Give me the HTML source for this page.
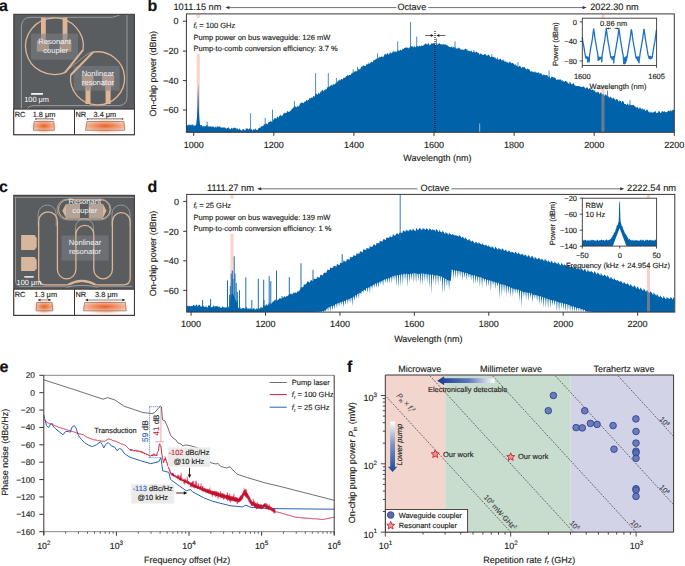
<!DOCTYPE html>
<html><head><meta charset="utf-8"><style>
html,body{margin:0;padding:0;background:#fff;overflow:hidden;}
svg{display:block;font-family:"Liberation Sans", sans-serif;text-rendering:geometricPrecision;}
</style></head><body>
<svg width="685" height="566" viewBox="0 0 685 566" font-family='"Liberation Sans", sans-serif'>
<defs>
<radialGradient id="glowA" cx="0.5" cy="0.5" r="0.5"><stop offset="0.5" stop-color="#f39c74" stop-opacity="0.85"/><stop offset="1" stop-color="#fbe3d6" stop-opacity="0"/></radialGradient>
<radialGradient id="coreA" cx="0.5" cy="0.5" r="0.6"><stop offset="0" stop-color="#e8602a"/><stop offset="0.35" stop-color="#ee8758"/><stop offset="0.8" stop-color="#f4b496"/><stop offset="1" stop-color="#f7c9b2"/></radialGradient>
<radialGradient id="glowC" cx="0.5" cy="0.5" r="0.5"><stop offset="0.5" stop-color="#f39c74" stop-opacity="0.85"/><stop offset="1" stop-color="#fbe3d6" stop-opacity="0"/></radialGradient>
<radialGradient id="coreC" cx="0.5" cy="0.5" r="0.6"><stop offset="0" stop-color="#e8602a"/><stop offset="0.35" stop-color="#ee8758"/><stop offset="0.8" stop-color="#f4b496"/><stop offset="1" stop-color="#f7c9b2"/></radialGradient>
</defs>
<text x="-0.9" y="10.8" font-size="16" font-weight="bold" fill="#111" stroke="#111" stroke-width="0.15">a</text>
<text x="147.6" y="10.8" font-size="16" font-weight="bold" fill="#111" stroke="#111" stroke-width="0.15">b</text>
<text x="-0.9" y="191.6" font-size="16" font-weight="bold" fill="#111" stroke="#111" stroke-width="0.15">c</text>
<text x="147.6" y="192.2" font-size="16" font-weight="bold" fill="#111" stroke="#111" stroke-width="0.15">d</text>
<text x="-0.6" y="372.3" font-size="16" font-weight="bold" fill="#111" stroke="#111" stroke-width="0.15">e</text>
<text x="347.0" y="372.4" font-size="16" font-weight="bold" fill="#111" stroke="#111" stroke-width="0.15">f</text>
<rect x="13.8" y="14.3" width="120.6" height="95" fill="#595d60"/>
<rect x="13.8" y="14.3" width="120.6" height="120.4" fill="none" stroke="#3b3131" stroke-width="1"/>
<path d="M21.4,109 L21.4,27 Q21.4,17.3 31,17.3 L112.4,17.3 L119.4,15.2 M27,109 Q29,105.6 33,105.6 L118,105.6 Q127,105.6 127,97 L127,15.2" fill="none" stroke="#b4b7ba" stroke-width="0.7"/>
<path d="M62,74 Q66,71 70,68 L86,55 Q90,52 95,51.5" fill="none" stroke="#b9bcc0" stroke-width="0.6"/>
<rect x="31" y="33.7" width="47" height="26" fill="#6c7074"/>
<rect x="73.6" y="66" width="46" height="24.7" fill="#6c7074"/>
<rect x="41.0" y="17.6" width="4.8" height="17" fill="#e0b594"/>
<rect x="62.6" y="17.6" width="4.8" height="17" fill="#e0b594"/>
<rect x="36.8" y="40.5" width="12.2" height="11.1" fill="#a8968b"/>
<rect x="59.6" y="40.5" width="11.7" height="11.1" fill="#a8968b"/>
<rect x="41.0" y="33.7" width="4.8" height="7" fill="#a8968b"/>
<rect x="62.6" y="33.7" width="4.8" height="7" fill="#a8968b"/>
<rect x="85.5" y="86" width="5" height="18" fill="#e0b594"/>
<rect x="105.6" y="86" width="5" height="18" fill="#e0b594"/>
<rect x="85.5" y="86" width="5" height="4.7" fill="#a8968b"/>
<rect x="105.6" y="86" width="5" height="4.7" fill="#a8968b"/>
<rect x="81.8" y="75" width="11.7" height="11.2" fill="#ab978d"/>
<rect x="101.9" y="75" width="12.2" height="11.2" fill="#ab978d"/>
<path d="M83.1,49.9 A28.9,28.3 0 1 0 65,72.6" fill="none" stroke="#e0b594" stroke-width="1.3"/>
<path d="M83.1,49.9 L65,72.6" fill="none" stroke="#e0b594" stroke-width="2"/>
<path d="M70.7,75 A27.05,26.55 0 1 0 92.9,52.2" fill="none" stroke="#e0b594" stroke-width="1.3"/>
<path d="M70.7,75 L92.9,52.2" fill="none" stroke="#e0b594" stroke-width="2"/>
<text x="54.6" y="44.1" font-size="7.6" text-anchor="middle" fill="#f4f4f4">Resonant</text>
<text x="55.6" y="52.6" font-size="7.6" text-anchor="middle" fill="#f4f4f4">coupler</text>
<text x="97.9" y="75.9" font-size="7.6" text-anchor="middle" fill="#f4f4f4">Nonlinear</text>
<text x="97.9" y="85.2" font-size="7.6" text-anchor="middle" fill="#f4f4f4">resonator</text>
<rect x="31.1" y="93" width="11.8" height="1.8" fill="#f4f4f4"/>
<text x="24.2" y="102" font-size="7.4" fill="#fff">100 μm</text>
<rect x="13.8" y="109.1" width="120.6" height="25.599999999999994" fill="#fff" stroke="#3b3131" stroke-width="1"/>
<line x1="74.5" y1="109.1" x2="74.5" y2="134.7" stroke="#3b3131" stroke-width="1"/>
<text x="14.7" y="116.7" font-size="7.4" fill="#231f20" stroke="#231f20" stroke-width="0.15">RC</text>
<text x="75.5" y="116.7" font-size="7.4" fill="#231f20" stroke="#231f20" stroke-width="0.15">NR</text>
<text x="32.7" y="116.7" font-size="7.4" fill="#231f20" stroke="#231f20" stroke-width="0.15">1.8 μm</text>
<text x="93.5" y="116.7" font-size="7.4" fill="#231f20" stroke="#231f20" stroke-width="0.15">3.4 μm</text>
<line x1="35.9" y1="118.9" x2="52.8" y2="118.9" stroke="#7a6a66" stroke-width="1"/>
<circle cx="35.9" cy="118.9" r="0.75" fill="#3b3131"/><circle cx="52.8" cy="118.9" r="0.75" fill="#3b3131"/>
<line x1="87.5" y1="118.9" x2="122.6" y2="118.9" stroke="#7a6a66" stroke-width="1"/>
<circle cx="87.5" cy="118.9" r="0.75" fill="#3b3131"/><circle cx="122.6" cy="118.9" r="0.75" fill="#3b3131"/>
<ellipse cx="44.0" cy="126.4" rx="14.5" ry="8" fill="url(#glowA)"/>
<path d="M34.2,121.5 L53.8,121.5 L54.4,130.3 L33.4,130.3 Z" fill="url(#coreA)" stroke="#84665c" stroke-width="0.65"/>
<ellipse cx="105.4" cy="126.4" rx="23.65" ry="8" fill="url(#glowA)"/>
<path d="M86.9,121.5 L123.9,121.5 L124.8,130.3 L85.5,130.3 Z" fill="url(#coreA)" stroke="#84665c" stroke-width="0.65"/>
<rect x="13.8" y="195.3" width="120.6" height="94" fill="#595d60"/>
<rect x="13.8" y="195.3" width="120.6" height="120.2" fill="none" stroke="#3b3131" stroke-width="1"/>
<path d="M15.5,198 L15.5,281 Q15.5,286.4 22,286.4 L66,286.4 M98,286.4 L132,286.4" fill="none" stroke="#b9bcc0" stroke-width="0.6"/>
<path d="M14,197.4 L134,197.4" fill="none" stroke="#b9bcc0" stroke-width="0.6"/>
<path d="M38.2,226 L38.2,214 A9,9 0 0 1 56.2,214 L56.2,226" fill="none" stroke="#b9bcc0" stroke-width="0.6"/>
<path d="M112,226 L112,214 A9,9 0 0 1 130,214 L130,226" fill="none" stroke="#b9bcc0" stroke-width="0.6"/>
<path d="M75.5,236 L75.5,227.6 A9,9 0 0 1 93.5,227.6 L93.5,236" fill="none" stroke="#b9bcc0" stroke-width="0.6"/>
<rect x="57" y="199" width="54" height="21" rx="10.5" fill="none" stroke="#b9bcc0" stroke-width="0.6"/>
<rect x="61.6" y="235.5" width="47.1" height="25.1" fill="#6c7074"/>
<path d="M38.7,278 L38.7,221.15 A9.349999999999998,9.349999999999998 0 0 1 57.4,221.15 L57.4,269.55 A9.250000000000004,9.250000000000004 0 0 0 75.9,269.55 L75.9,234.35 A8.949999999999996,8.949999999999996 0 0 1 93.8,234.35 L93.8,269.5 A9.300000000000004,9.300000000000004 0 0 0 112.4,269.5 L112.4,221.59999999999997 A8.899999999999991,8.899999999999991 0 0 1 130.2,221.59999999999997 L130.2,278 Q130.2,284.8 123.5,284.8 L95.8,284.8 Q82,277 67.9,284.8 L45.5,284.8 Q38.7,284.8 38.7,278 Z" fill="none" stroke="#e0b594" stroke-width="1.3"/>
<path d="M68.5,284.6 Q82,277.3 95.2,284.6" fill="none" stroke="#e0b594" stroke-width="2.2"/>
<path d="M66,287.2 Q82,283.5 98,287.2" fill="none" stroke="#b9bcc0" stroke-width="0.7"/>
<rect x="58.5" y="199.7" width="51.7" height="19.2" rx="9.6" fill="none" stroke="#e0b594" stroke-width="1"/>
<path d="M62.3,210.8 L66,204 L79.9,204 L79.9,217.7 L66,217.7 Z" fill="#d8b69c"/>
<path d="M106.5,210.8 L103,204 L88.9,204 L88.9,217.7 L103,217.7 Z" fill="#d8b69c"/>
<rect x="66" y="204" width="13.9" height="13.7" fill="#b3a397"/>
<rect x="88.9" y="204" width="14.1" height="13.7" fill="#b3a397"/>
<path d="M21.1,235 L34.5,235 L36.7,238 L36.7,247 L34.5,249.9 L21.1,249.9 Z" fill="#d8b69c"/>
<path d="M21.1,257 L34.5,257 L36.7,260 L36.7,268.5 L34.5,271.1 L21.1,271.1 Z" fill="#d8b69c"/>
<text x="84.8" y="204.2" font-size="7.6" text-anchor="middle" fill="#f4f4f4">Resonant</text>
<text x="84.8" y="213.3" font-size="7.6" text-anchor="middle" fill="#f4f4f4">coupler</text>
<text x="85" y="245.3" font-size="7.6" text-anchor="middle" fill="#f4f4f4">Nonlinear</text>
<text x="85" y="254.4" font-size="7.6" text-anchor="middle" fill="#f4f4f4">resonator</text>
<rect x="24.3" y="276.2" width="9.4" height="1.4" fill="#fff"/>
<text x="16.6" y="285" font-size="7.4" fill="#fff">100 μm</text>
<rect x="13.8" y="289.2" width="120.6" height="26.100000000000023" fill="#fff" stroke="#3b3131" stroke-width="1"/>
<line x1="74.5" y1="289.2" x2="74.5" y2="315.3" stroke="#3b3131" stroke-width="1"/>
<text x="14.7" y="297.2" font-size="7.4" fill="#231f20" stroke="#231f20" stroke-width="0.15">RC</text>
<text x="75.5" y="297.2" font-size="7.4" fill="#231f20" stroke="#231f20" stroke-width="0.15">NR</text>
<text x="34.3" y="297.2" font-size="7.4" fill="#231f20" stroke="#231f20" stroke-width="0.15">1.3 μm</text>
<text x="95.0" y="297.2" font-size="7.4" fill="#231f20" stroke="#231f20" stroke-width="0.15">3.8 μm</text>
<line x1="39.0" y1="300.0" x2="49.9" y2="300.0" stroke="#231f20" stroke-width="0.6"/>
<path d="M37.5,300.0 l3,-1.3 v2.6 z M51.4,300.0 l-3,-1.3 v2.6 z" fill="#231f20"/>
<line x1="86.5" y1="300.0" x2="123.9" y2="300.0" stroke="#231f20" stroke-width="0.6"/>
<path d="M85.0,300.0 l3,-1.3 v2.6 z M125.4,300.0 l-3,-1.3 v2.6 z" fill="#231f20"/>
<ellipse cx="44.35" cy="307.15" rx="12.25" ry="8" fill="url(#glowC)"/>
<path d="M36.6,302.5 L52.1,302.5 L52.7,310.8 L36.2,310.8 Z" fill="url(#coreC)" stroke="#84665c" stroke-width="0.65"/>
<ellipse cx="105.0" cy="307.15" rx="25.449999999999996" ry="8" fill="url(#glowC)"/>
<path d="M84.6,302.5 L125.4,302.5 L126.3,310.8 L83.4,310.8 Z" fill="url(#coreC)" stroke="#84665c" stroke-width="0.65"/>
<rect x="196.76557499999998" y="14.4" width="3" height="117.4" fill="#fbd3c6"/>
<path d="M186.4,132.3 L186.4,124.9 L187.0,124.5 L187.6,125.8 L188.2,124.3 L188.8,125.5 L189.4,125.1 L190.0,124.3 L190.6,125.5 L191.2,124.3 L191.8,125.4 L192.4,124.5 L193.0,124.6 L193.6,125.5 L194.2,126.5 L194.8,124.7 L195.4,125.0 L196.0,126.1 L196.6,127.0 L197.2,126.0 L197.8,125.6 L198.4,127.1 L199.0,124.7 L199.6,126.9 L200.2,125.4 L200.8,125.1 L201.4,125.1 L202.0,125.6 L202.6,126.9 L203.2,125.3 L203.8,126.4 L204.4,126.6 L205.0,125.9 L205.6,126.4 L206.2,125.2 L206.8,125.2 L207.4,125.6 L208.0,126.8 L208.6,126.2 L209.2,126.0 L209.8,126.7 L210.4,126.4 L211.0,126.0 L211.6,127.3 L212.2,127.1 L212.8,126.0 L213.4,126.8 L214.0,126.7 L214.6,127.7 L215.2,127.3 L215.8,126.2 L216.4,128.0 L217.0,125.8 L217.6,126.6 L218.2,127.6 L218.8,126.0 L219.4,126.9 L220.0,125.8 L220.6,127.5 L221.2,127.8 L221.8,127.3 L222.4,128.1 L223.0,126.7 L223.6,127.8 L224.2,127.6 L224.8,127.6 L225.4,127.4 L226.0,128.4 L226.6,128.8 L227.2,127.7 L227.8,128.2 L228.4,126.7 L229.0,128.5 L229.6,128.4 L230.2,129.4 L230.8,129.0 L231.4,127.7 L232.0,128.1 L232.6,128.9 L233.2,127.3 L233.8,128.5 L234.4,127.8 L235.0,127.8 L235.6,127.7 L236.2,129.6 L236.8,128.0 L237.4,128.4 L238.0,128.9 L238.6,130.2 L239.2,128.2 L239.8,129.2 L240.4,129.5 L241.0,130.4 L241.6,130.2 L242.2,130.4 L242.8,128.8 L243.4,129.2 L244.0,129.0 L244.6,130.4 L245.2,130.6 L245.8,128.5 L246.4,128.5 L247.0,128.6 L247.6,128.6 L248.2,129.3 L248.8,129.5 L249.4,128.6 L250.0,128.0 L250.6,129.0 L251.2,128.9 L251.8,129.4 L252.4,130.4 L253.0,129.7 L253.6,129.2 L254.2,129.4 L254.8,129.6 L255.4,127.9 L256.0,130.1 L256.6,129.7 L257.2,129.9 L257.8,129.6 L258.4,128.3 L259.0,128.2 L259.6,127.2 L260.2,128.3 L260.8,126.6 L261.4,126.3 L262.0,126.4 L262.6,125.9 L263.2,125.9 L263.8,124.8 L264.4,124.3 L265.0,124.3 L265.6,123.8 L266.2,124.1 L266.8,122.9 L267.4,124.7 L268.0,123.6 L268.6,122.0 L269.2,121.9 L269.8,121.8 L270.4,121.5 L271.0,120.5 L271.6,122.0 L272.2,122.0 L272.8,120.2 L273.4,119.9 L274.0,118.5 L274.6,118.2 L275.2,118.5 L275.8,117.9 L276.4,119.0 L277.0,116.9 L277.6,116.2 L278.2,118.3 L278.8,116.8 L279.4,115.5 L280.0,116.2 L280.6,114.5 L281.2,115.4 L281.8,116.3 L282.4,115.6 L283.0,114.8 L283.6,113.3 L284.2,113.3 L284.8,112.4 L285.4,113.6 L286.0,112.6 L286.6,112.9 L287.2,111.4 L287.8,110.8 L288.4,112.0 L289.0,112.1 L289.6,111.4 L290.2,110.9 L290.8,110.6 L291.4,110.0 L292.0,108.3 L292.6,108.7 L293.2,108.0 L293.8,106.8 L294.4,106.4 L295.0,106.7 L295.6,106.3 L296.2,107.1 L296.8,107.4 L297.4,105.7 L298.0,106.6 L298.6,106.4 L299.2,106.0 L299.8,104.1 L300.4,103.3 L301.0,103.0 L301.6,102.6 L302.2,102.2 L302.8,103.0 L303.4,103.3 L304.0,102.8 L304.6,101.5 L305.2,101.6 L305.8,101.6 L306.4,99.4 L307.0,100.5 L307.6,100.8 L308.2,100.1 L308.8,99.7 L309.4,98.6 L310.0,97.5 L310.6,98.7 L311.2,97.2 L311.8,98.0 L312.4,98.1 L313.0,96.3 L313.6,95.9 L314.2,97.0 L314.8,96.0 L315.4,94.2 L316.0,93.8 L316.6,93.5 L317.2,95.1 L317.8,94.5 L318.4,92.4 L319.0,93.8 L319.6,93.8 L320.2,92.6 L320.8,91.5 L321.4,91.6 L322.0,90.2 L322.6,89.5 L323.2,91.7 L323.8,90.5 L324.4,89.8 L325.0,90.5 L325.6,88.8 L326.2,89.6 L326.8,89.1 L327.4,87.2 L328.0,86.9 L328.6,86.7 L329.2,86.2 L329.8,86.7 L330.4,85.5 L331.0,85.6 L331.6,84.5 L332.2,86.1 L332.8,84.3 L333.4,84.2 L334.0,84.2 L334.6,84.7 L335.2,83.1 L335.8,84.0 L336.4,82.5 L337.0,82.3 L337.6,81.9 L338.2,80.2 L338.8,80.9 L339.4,79.9 L340.0,79.1 L340.6,80.8 L341.2,78.8 L341.8,79.2 L342.4,79.5 L343.0,78.7 L343.6,77.7 L344.2,77.9 L344.8,77.6 L345.4,77.8 L346.0,75.7 L346.6,76.5 L347.2,75.4 L347.8,75.1 L348.4,76.0 L349.0,74.9 L349.6,74.7 L350.2,74.9 L350.8,74.9 L351.4,73.3 L352.0,73.4 L352.6,72.8 L353.2,72.4 L353.8,72.6 L354.4,71.6 L355.0,71.4 L355.6,70.9 L356.2,71.8 L356.8,70.8 L357.4,70.9 L358.0,70.7 L358.6,68.6 L359.2,69.0 L359.8,69.6 L360.4,69.0 L361.0,66.8 L361.6,66.4 L362.2,66.9 L362.8,65.6 L363.4,65.7 L364.0,64.9 L364.6,66.1 L365.2,66.0 L365.8,65.9 L366.4,63.7 L367.0,64.8 L367.6,64.3 L368.2,62.6 L368.8,64.2 L369.4,64.1 L370.0,61.8 L370.6,63.4 L371.2,61.7 L371.8,61.6 L372.4,62.6 L373.0,61.9 L373.6,59.8 L374.2,60.2 L374.8,60.2 L375.4,59.4 L376.0,58.7 L376.6,58.7 L377.2,59.5 L377.8,57.3 L378.4,58.4 L379.0,57.8 L379.6,56.4 L380.2,56.9 L380.8,57.4 L381.4,56.8 L382.0,55.3 L382.6,57.4 L383.2,56.6 L383.8,56.8 L384.4,54.3 L385.0,54.4 L385.6,53.6 L386.2,55.2 L386.8,53.7 L387.4,53.1 L388.0,53.6 L388.6,54.7 L389.2,54.2 L389.8,52.6 L390.4,52.1 L391.0,53.9 L391.6,52.8 L392.2,53.0 L392.8,51.2 L393.4,51.0 L394.0,52.4 L394.6,51.6 L395.2,50.5 L395.8,52.6 L396.4,51.6 L397.0,51.8 L397.6,49.8 L398.2,51.6 L398.8,49.4 L399.4,51.3 L400.0,50.1 L400.6,49.6 L401.2,50.0 L401.8,50.8 L402.4,48.9 L403.0,48.3 L403.6,49.2 L404.2,48.3 L404.8,47.8 L405.4,47.8 L406.0,47.4 L406.6,47.6 L407.2,47.8 L407.8,47.6 L408.4,48.7 L409.0,47.3 L409.6,47.8 L410.2,46.8 L410.8,47.1 L411.4,46.1 L412.0,46.6 L412.6,45.9 L413.2,47.6 L413.8,47.0 L414.4,46.0 L415.0,46.6 L415.6,47.7 L416.2,45.4 L416.8,47.1 L417.4,46.0 L418.0,46.0 L418.6,46.8 L419.2,45.5 L419.8,45.7 L420.4,46.1 L421.0,46.7 L421.6,44.9 L422.2,46.1 L422.8,45.7 L423.4,45.4 L424.0,44.7 L424.6,44.5 L425.2,43.6 L425.8,43.7 L426.4,43.5 L427.0,45.2 L427.6,43.8 L428.2,43.5 L428.8,43.3 L429.4,45.2 L430.0,45.2 L430.6,44.6 L431.2,43.5 L431.8,43.3 L432.4,43.4 L433.0,43.7 L433.6,42.9 L434.2,43.6 L434.8,43.2 L435.4,45.0 L436.0,45.0 L436.6,44.0 L437.2,43.2 L437.8,45.2 L438.4,43.5 L439.0,43.8 L439.6,43.0 L440.2,44.1 L440.8,44.4 L441.4,44.6 L442.0,44.0 L442.6,44.9 L443.2,43.7 L443.8,44.5 L444.4,44.2 L445.0,45.1 L445.6,44.3 L446.2,44.4 L446.8,45.2 L447.4,45.2 L448.0,46.2 L448.6,46.2 L449.2,46.9 L449.8,46.7 L450.4,47.0 L451.0,47.6 L451.6,46.4 L452.2,46.4 L452.8,48.2 L453.4,46.2 L454.0,47.8 L454.6,47.7 L455.2,46.2 L455.8,48.4 L456.4,48.7 L457.0,48.1 L457.6,48.5 L458.2,48.8 L458.8,47.2 L459.4,48.3 L460.0,48.4 L460.6,49.4 L461.2,49.5 L461.8,49.7 L462.4,49.2 L463.0,50.1 L463.6,49.7 L464.2,49.9 L464.8,48.9 L465.4,48.5 L466.0,48.9 L466.6,49.7 L467.2,49.1 L467.8,51.2 L468.4,50.6 L469.0,51.0 L469.6,51.1 L470.2,51.4 L470.8,51.1 L471.4,50.0 L472.0,52.2 L472.6,52.2 L473.2,51.7 L473.8,52.0 L474.4,52.4 L475.0,51.1 L475.6,53.0 L476.2,51.9 L476.8,51.5 L477.4,52.2 L478.0,53.6 L478.6,52.4 L479.2,53.9 L479.8,54.7 L480.4,53.6 L481.0,53.5 L481.6,53.9 L482.2,54.6 L482.8,55.0 L483.4,54.7 L484.0,55.0 L484.6,53.7 L485.2,54.0 L485.8,54.5 L486.4,55.9 L487.0,54.9 L487.6,55.8 L488.2,54.5 L488.8,54.8 L489.4,55.5 L490.0,56.7 L490.6,56.9 L491.2,57.1 L491.8,56.2 L492.4,57.0 L493.0,57.0 L493.6,57.2 L494.2,56.4 L494.8,58.6 L495.4,57.0 L496.0,59.2 L496.6,59.3 L497.2,57.1 L497.8,58.4 L498.4,59.5 L499.0,60.1 L499.6,59.0 L500.2,58.7 L500.8,58.8 L501.4,60.9 L502.0,59.2 L502.6,60.4 L503.2,59.5 L503.8,60.7 L504.4,62.0 L505.0,60.1 L505.6,62.1 L506.2,61.5 L506.8,62.7 L507.4,62.4 L508.0,61.4 L508.6,63.4 L509.2,62.5 L509.8,61.5 L510.4,61.7 L511.0,63.2 L511.6,63.3 L512.2,63.1 L512.8,62.9 L513.4,63.7 L514.0,63.8 L514.6,65.4 L515.2,63.4 L515.8,65.6 L516.4,66.1 L517.0,64.4 L517.6,66.7 L518.2,66.4 L518.8,67.1 L519.4,65.7 L520.0,66.1 L520.6,66.4 L521.2,68.2 L521.8,67.4 L522.4,67.0 L523.0,67.4 L523.6,67.2 L524.2,66.8 L524.8,67.2 L525.4,69.3 L526.0,68.1 L526.6,70.0 L527.2,68.4 L527.8,68.7 L528.4,69.5 L529.0,68.9 L529.6,69.6 L530.2,71.3 L530.8,71.4 L531.4,71.4 L532.0,71.1 L532.6,72.1 L533.2,72.4 L533.8,71.6 L534.4,72.2 L535.0,70.7 L535.6,72.7 L536.2,72.1 L536.8,73.1 L537.4,73.1 L538.0,72.3 L538.6,71.9 L539.2,74.4 L539.8,72.5 L540.4,73.6 L541.0,73.5 L541.6,73.6 L542.2,74.9 L542.8,75.8 L543.4,74.1 L544.0,75.3 L544.6,74.6 L545.2,75.5 L545.8,75.3 L546.4,74.9 L547.0,75.1 L547.6,75.4 L548.2,77.4 L548.8,76.6 L549.4,76.0 L550.0,78.0 L550.6,78.5 L551.2,77.2 L551.8,76.6 L552.4,77.0 L553.0,76.9 L553.6,77.7 L554.2,77.3 L554.8,77.8 L555.4,78.1 L556.0,79.1 L556.6,80.1 L557.2,79.9 L557.8,79.2 L558.4,79.4 L559.0,79.8 L559.6,79.6 L560.2,79.7 L560.8,79.2 L561.4,79.9 L562.0,81.9 L562.6,79.8 L563.2,81.0 L563.8,81.5 L564.4,82.3 L565.0,80.8 L565.6,81.1 L566.2,81.2 L566.8,81.8 L567.4,82.1 L568.0,83.6 L568.6,83.5 L569.2,83.7 L569.8,81.7 L570.4,81.9 L571.0,83.9 L571.6,84.5 L572.2,83.6 L572.8,84.1 L573.4,82.7 L574.0,83.9 L574.6,85.5 L575.2,85.4 L575.8,85.7 L576.4,86.2 L577.0,84.5 L577.6,84.3 L578.2,84.6 L578.8,85.7 L579.4,86.3 L580.0,87.2 L580.6,86.8 L581.2,86.8 L581.8,87.3 L582.4,86.6 L583.0,87.1 L583.6,85.9 L584.2,88.0 L584.8,86.8 L585.4,88.7 L586.0,88.2 L586.6,87.5 L587.2,87.2 L587.8,87.8 L588.4,89.0 L589.0,89.3 L589.6,88.0 L590.2,88.1 L590.8,89.5 L591.4,89.9 L592.0,89.6 L592.6,89.4 L593.2,90.7 L593.8,89.4 L594.4,90.4 L595.0,91.0 L595.6,92.5 L596.2,92.0 L596.8,92.8 L597.4,92.0 L598.0,91.6 L598.6,91.9 L599.2,94.0 L599.8,93.6 L600.4,92.8 L601.0,92.3 L601.6,93.7 L602.2,94.4 L602.8,94.0 L603.4,93.8 L604.0,95.1 L604.6,96.0 L605.2,94.5 L605.8,94.2 L606.4,95.2 L607.0,95.7 L607.6,96.6 L608.2,95.6 L608.8,97.4 L609.4,97.5 L610.0,97.1 L610.6,96.6 L611.2,98.8 L611.8,97.3 L612.4,98.9 L613.0,97.6 L613.6,97.8 L614.2,99.5 L614.8,98.5 L615.4,100.4 L616.0,99.5 L616.6,98.9 L617.2,99.3 L617.8,100.0 L618.4,100.9 L619.0,101.9 L619.6,100.0 L620.2,100.9 L620.8,100.7 L621.4,102.9 L622.0,101.0 L622.6,101.0 L623.2,101.2 L623.8,102.3 L624.4,103.9 L625.0,104.1 L625.6,103.9 L626.2,104.8 L626.8,104.9 L627.4,103.5 L628.0,103.4 L628.6,105.5 L629.2,105.2 L629.8,103.6 L630.4,105.4 L631.0,104.9 L631.6,105.1 L632.2,105.2 L632.8,104.9 L633.4,104.7 L634.0,105.6 L634.6,106.0 L635.2,107.8 L635.8,105.8 L636.4,108.2 L637.0,106.5 L637.6,107.1 L638.2,108.5 L638.8,108.7 L639.4,107.9 L640.0,107.1 L640.6,108.4 L641.2,108.3 L641.8,110.0 L642.4,108.3 L643.0,108.9 L643.6,110.5 L644.2,108.5 L644.8,109.7 L645.4,111.0 L646.0,111.1 L646.6,109.4 L647.2,109.7 L647.8,110.0 L648.4,112.4 L649.0,110.9 L649.6,112.3 L650.2,112.9 L650.8,111.6 L651.4,111.5 L652.0,113.3 L652.6,112.5 L653.2,111.6 L653.8,112.8 L654.4,111.8 L655.0,111.6 L655.6,110.9 L656.2,112.8 L656.8,113.2 L657.4,112.4 L658.0,113.1 L658.6,110.7 L659.2,111.2 L659.8,111.8 L660.4,113.0 L661.0,112.9 L661.6,111.4 L662.2,111.0 L662.8,111.4 L663.4,111.5 L664.0,112.6 L664.6,110.6 L665.2,112.2 L665.8,112.0 L666.4,112.2 L667.0,112.0 L667.6,111.5 L668.2,110.7 L668.8,110.7 L669.4,110.7 L670.0,111.8 L670.6,109.9 L671.2,110.2 L671.8,111.6 L672.4,110.2 L673.0,109.7 L673.6,109.6 L674.2,110.9 L674.3,132.3 Z" fill="#0062a8"/>
<line x1="207.2" y1="121.7" x2="207.2" y2="127.33711911357341" stroke="#1c6fb5" stroke-width="0.8"/>
<line x1="250.6" y1="113.3" x2="250.6" y2="130.2295081967213" stroke="#1c6fb5" stroke-width="0.8"/>
<line x1="265.2" y1="118" x2="265.2" y2="126.09315068493152" stroke="#1c6fb5" stroke-width="0.8"/>
<line x1="272.5" y1="109.6" x2="272.5" y2="121.51415525114157" stroke="#1c6fb5" stroke-width="0.8"/>
<line x1="294.4" y1="100.9" x2="294.4" y2="108.63628631642332" stroke="#1c6fb5" stroke-width="0.8"/>
<line x1="315.6" y1="73.1" x2="315.6" y2="95.96902600132105" stroke="#1c6fb5" stroke-width="0.8"/>
<line x1="328.3" y1="73.1" x2="328.3" y2="88.40382513661203" stroke="#1c6fb5" stroke-width="0.8"/>
<line x1="336.4" y1="77.9" x2="336.4" y2="83.54065934065935" stroke="#1c6fb5" stroke-width="0.8"/>
<line x1="353.2" y1="69.5" x2="353.2" y2="73.41311475409836" stroke="#1c6fb5" stroke-width="0.8"/>
<line x1="357.5" y1="66.9" x2="357.5" y2="70.851912568306" stroke="#1c6fb5" stroke-width="0.8"/>
<line x1="363" y1="68" x2="363" y2="67.57595628415301" stroke="#1c6fb5" stroke-width="0.8"/>
<line x1="377.6" y1="53.4" x2="377.6" y2="59.69999999999999" stroke="#1c6fb5" stroke-width="0.8"/>
<line x1="397.7" y1="41.4" x2="397.7" y2="51.85409836065574" stroke="#1c6fb5" stroke-width="0.8"/>
<line x1="410.5" y1="22" x2="410.5" y2="48.581868131868134" stroke="#1c6fb5" stroke-width="0.8"/>
<line x1="416.7" y1="36.6" x2="416.7" y2="47.32142857142857" stroke="#1c6fb5" stroke-width="0.8"/>
<line x1="436.4" y1="38.7" x2="436.4" y2="44.82421875" stroke="#1c6fb5" stroke-width="0.8"/>
<line x1="455" y1="41.4" x2="455" y2="48.38579234972678" stroke="#1c6fb5" stroke-width="0.8"/>
<line x1="473.8" y1="50.1" x2="473.8" y2="52.87637362637363" stroke="#1c6fb5" stroke-width="0.8"/>
<line x1="491.8" y1="54.1" x2="491.8" y2="57.77213114754098" stroke="#1c6fb5" stroke-width="0.8"/>
<line x1="549.1" y1="70.6" x2="549.1" y2="77.67362637362638" stroke="#1c6fb5" stroke-width="0.8"/>
<line x1="607.5" y1="90.6" x2="607.5" y2="97.10197261754638" stroke="#1c6fb5" stroke-width="0.8"/>
<line x1="518" y1="62" x2="518" y2="66.74870473788505" stroke="#1c6fb5" stroke-width="0.8"/>
<line x1="580" y1="82" x2="580" y2="87.01978021978022" stroke="#1c6fb5" stroke-width="0.8"/>
<line x1="630" y1="100" x2="630" y2="105.85683060109288" stroke="#1c6fb5" stroke-width="0.8"/>
<path d="M195.2,132.3 L196.2,124 Q197.3,118 197.6,100 L198.1,83.3 L198.6,100 Q198.9,118 200,124 L201,132.3 Z" fill="#0062a8"/>
<line x1="479.7" y1="123.5" x2="479.7" y2="132.3" stroke="#cfe0ef" stroke-width="0.7"/>
<line x1="435" y1="31" x2="435" y2="132.3" stroke="#111" stroke-width="1.1" stroke-dasharray="1,1"/>
<path d="M425.1,35.5 L432.5,35.5 M445.6,35.5 L437.6,35.5" stroke="#222" stroke-width="0.7"/>
<path d="M433.8,35.5 l-3,-1.4 v2.8 z M436.3,35.5 l3,-1.4 v2.8 z" fill="#222"/>
<rect x="601.4311499999999" y="14.4" width="3" height="117.4" fill="#f4977c" fill-opacity="0.45"/>
<rect x="190" y="18" width="150" height="36" fill="#fff"/>
<rect x="576" y="18.2" width="96" height="67.8" fill="#fff"/>
<rect x="186.4" y="13.9" width="487.9" height="118.4" fill="none" stroke="#3d3535" stroke-width="1"/>
<line x1="182.9" y1="21.2" x2="186.4" y2="21.2" stroke="#3d3535" stroke-width="1"/>
<text x="178.6" y="24.4" font-size="9" text-anchor="end" fill="#231f20"  stroke="#231f20" stroke-width="0.15">0</text>
<line x1="182.9" y1="51.1" x2="186.4" y2="51.1" stroke="#3d3535" stroke-width="1"/>
<text x="178.6" y="54.300000000000004" font-size="9" text-anchor="end" fill="#231f20"  stroke="#231f20" stroke-width="0.15">−20</text>
<line x1="182.9" y1="80.6" x2="186.4" y2="80.6" stroke="#3d3535" stroke-width="1"/>
<text x="178.6" y="83.8" font-size="9" text-anchor="end" fill="#231f20"  stroke="#231f20" stroke-width="0.15">−40</text>
<line x1="182.9" y1="110" x2="186.4" y2="110" stroke="#3d3535" stroke-width="1"/>
<text x="178.6" y="113.2" font-size="9" text-anchor="end" fill="#231f20"  stroke="#231f20" stroke-width="0.15">−60</text>
<line x1="193.7" y1="132.3" x2="193.7" y2="135.9" stroke="#3d3535" stroke-width="1"/>
<text x="193.7" y="147.5" font-size="9" text-anchor="middle" fill="#231f20"  stroke="#231f20" stroke-width="0.15">1000</text>
<line x1="273.8" y1="132.3" x2="273.8" y2="135.9" stroke="#3d3535" stroke-width="1"/>
<text x="273.8" y="147.5" font-size="9" text-anchor="middle" fill="#231f20"  stroke="#231f20" stroke-width="0.15">1200</text>
<line x1="353.9" y1="132.3" x2="353.9" y2="135.9" stroke="#3d3535" stroke-width="1"/>
<text x="353.9" y="147.5" font-size="9" text-anchor="middle" fill="#231f20"  stroke="#231f20" stroke-width="0.15">1400</text>
<line x1="434.0" y1="132.3" x2="434.0" y2="135.9" stroke="#3d3535" stroke-width="1"/>
<text x="434.0" y="147.5" font-size="9" text-anchor="middle" fill="#231f20"  stroke="#231f20" stroke-width="0.15">1600</text>
<line x1="514.1" y1="132.3" x2="514.1" y2="135.9" stroke="#3d3535" stroke-width="1"/>
<text x="514.1" y="147.5" font-size="9" text-anchor="middle" fill="#231f20"  stroke="#231f20" stroke-width="0.15">1800</text>
<line x1="594.2" y1="132.3" x2="594.2" y2="135.9" stroke="#3d3535" stroke-width="1"/>
<text x="594.2" y="147.5" font-size="9" text-anchor="middle" fill="#231f20"  stroke="#231f20" stroke-width="0.15">2000</text>
<line x1="674.3" y1="132.3" x2="674.3" y2="135.9" stroke="#3d3535" stroke-width="1"/>
<text x="674.3" y="147.5" font-size="9" text-anchor="middle" fill="#231f20"  stroke="#231f20" stroke-width="0.15">2200</text>
<text x="193.5" y="27.5" font-size="7.5" fill="#231f20" stroke="#231f20" stroke-width="0.15"><tspan font-style="italic">f</tspan><tspan font-size="4.65" dy="1.6">r</tspan><tspan dy="-1.6"> = 100 GHz</tspan></text>
<text x="193.5" y="40.4" font-size="7.5" text-anchor="start" fill="#231f20"  stroke="#231f20" stroke-width="0.15">Pump power on bus waveguide: 126 mW</text>
<text x="193.5" y="50.9" font-size="7.5" text-anchor="start" fill="#231f20"  stroke="#231f20" stroke-width="0.15">Pump-to-comb conversion efficiency: 3.7 %</text>
<text x="437.4" y="161" font-size="9" text-anchor="middle" fill="#231f20"  stroke="#231f20" stroke-width="0.15">Wavelength (nm)</text>
<text transform="translate(155.8,73.8) rotate(-90)" font-size="9" text-anchor="middle" fill="#231f20" stroke="#231f20" stroke-width="0.15">On-chip power (dBm)</text>
<text x="173.5" y="9.9" font-size="9.2" text-anchor="start" fill="#231f20"  stroke="#231f20" stroke-width="0.15">1011.15 nm</text>
<text x="590.2" y="9.9" font-size="9.2" text-anchor="start" fill="#231f20"  stroke="#231f20" stroke-width="0.15">2022.30 nm</text>
<text x="411.8" y="9.9" font-size="9.1" text-anchor="middle" fill="#231f20"  stroke="#231f20" stroke-width="0.15">Octave</text>
<path d="M229,7.6 L396.4,7.6 M428.1,7.6 L583,7.6" stroke="#333" stroke-width="0.7"/>
<path d="M225.4,7.6 l4,-1.6 v3.2 z M586.6,7.6 l-4,-1.6 v3.2 z" fill="#333"/>
<path d="M582.3,37.4 L582.6,40.3 L582.9,41.9 L583.2,43.8 L583.5,44.8 L583.8,46.3 L584.1,48.1 L584.4,50.2 L584.7,52.2 L585.0,53.7 L585.3,55.2 L585.6,57.4 L585.9,58.0 L586.2,58.4 L586.5,56.7 L586.8,57.1 L587.1,57.3 L587.4,56.9 L587.7,62.0 L588.0,57.8 L588.3,57.4 L588.6,57.6 L588.9,58.3 L589.2,61.9 L589.5,55.8 L589.8,54.1 L590.1,52.4 L590.4,49.8 L590.7,48.3 L591.0,46.4 L591.3,44.7 L591.6,43.8 L591.9,41.6 L592.2,40.2 L592.5,37.5 L592.8,35.7 L593.1,33.0 L593.4,30.6 L593.7,28.9 L594.0,31.3 L594.3,32.7 L594.6,35.4 L594.9,37.7 L595.2,39.6 L595.5,41.4 L595.8,42.9 L596.1,44.7 L596.4,46.5 L596.7,48.6 L597.0,50.4 L597.3,51.7 L597.6,53.2 L597.9,55.3 L598.2,60.4 L598.5,56.9 L598.8,59.2 L599.1,57.3 L599.4,59.7 L599.7,58.1 L600.0,57.1 L600.3,58.7 L600.6,57.8 L600.9,57.4 L601.2,58.8 L601.5,56.9 L601.8,61.9 L602.1,55.4 L602.4,54.0 L602.7,51.9 L603.0,50.6 L603.3,48.5 L603.6,46.4 L603.9,44.5 L604.2,43.3 L604.5,41.7 L604.8,40.2 L605.1,37.2 L605.4,35.5 L605.7,33.0 L606.0,30.9 L606.3,28.2 L606.6,30.6 L606.9,33.1 L607.2,35.8 L607.5,37.2 L607.8,39.8 L608.1,41.8 L608.4,43.7 L608.7,44.7 L609.0,46.4 L609.3,48.9 L609.6,50.7 L609.9,52.0 L610.2,53.3 L610.5,55.9 L610.8,57.3 L611.1,57.9 L611.4,56.8 L611.7,56.9 L612.0,58.4 L612.3,59.6 L612.6,57.6 L612.9,56.7 L613.2,58.1 L613.5,56.5 L613.8,63.0 L614.1,56.7 L614.4,57.7 L614.7,55.3 L615.0,53.6 L615.3,52.1 L615.6,50.2 L615.9,48.7 L616.2,46.7 L616.5,45.0 L616.8,42.8 L617.1,41.7 L617.4,39.8 L617.7,37.3 L618.0,35.6 L618.3,33.4 L618.6,30.8 L618.9,28.3 L619.2,30.8 L619.5,32.7 L619.8,35.0 L620.1,37.5 L620.4,39.4 L620.7,41.5 L621.0,43.3 L621.3,44.6 L621.6,46.9 L621.9,48.1 L622.2,50.5 L622.5,52.3 L622.8,53.7 L623.1,55.0 L623.4,57.6 L623.7,63.5 L624.0,58.8 L624.3,63.8 L624.6,57.6 L624.9,63.1 L625.2,61.2 L625.5,63.2 L625.8,57.1 L626.1,56.7 L626.4,60.8 L626.7,57.6 L627.0,58.2 L627.3,55.3 L627.6,53.3 L627.9,51.8 L628.2,49.3 L628.5,48.2 L628.8,45.8 L629.1,44.5 L629.4,42.8 L629.7,40.8 L630.0,39.5 L630.3,36.9 L630.6,34.7 L630.9,32.7 L631.2,29.7 L631.5,29.8 L631.8,31.7 L632.1,33.7 L632.4,36.4 L632.7,38.1 L633.0,40.9 L633.3,42.2 L633.6,43.7 L633.9,45.9 L634.2,47.3 L634.5,48.8 L634.8,51.1 L635.1,52.1 L635.4,54.6 L635.7,55.8 L636.0,57.9 L636.3,57.8 L636.6,58.3 L636.9,56.8 L637.2,57.4 L637.5,60.6 L637.8,59.0 L638.1,59.9 L638.4,56.9 L638.7,61.6 L639.0,62.8 L639.3,58.4 L639.6,57.9 L639.9,55.2 L640.2,53.0 L640.5,51.2 L640.8,49.2 L641.1,48.1 L641.4,46.2 L641.7,44.3 L642.0,42.8 L642.3,40.9 L642.6,39.5 L642.9,37.1 L643.2,34.3 L643.5,32.8 L643.8,29.6 L644.1,29.4 L644.4,31.5 L644.7,33.6 L645.0,35.7 L645.3,38.6 L645.6,39.9 L645.9,42.2 L646.2,44.3 L646.5,45.2 L646.8,47.0 L647.1,49.2 L647.4,50.8 L647.7,52.7 L648.0,54.6 L648.3,55.7 L648.6,57.1 L648.9,56.5 L649.2,58.3 L649.5,56.4 L649.8,58.2 L650.1,58.2 L650.4,59.0 L650.7,56.5 L651.0,58.2 L651.3,58.4 L651.6,57.0 L651.9,57.4 L652.2,57.7 L652.5,55.0 L652.8,53.6 L653.1,51.1 L653.4,50.0 L653.7,47.4 L654.0,45.9 L654.3,44.2 L654.6,42.9 L654.9,41.4 L655.2,39.3 L655.5,36.7 L655.8,35.0 L656.1,32.2 L656.4,29.8" fill="none" stroke="#1f72c0" stroke-width="1.3" stroke-linejoin="round"/>
<rect x="582.3" y="18.2" width="74.30000000000007" height="47.2" fill="none" stroke="#3d3535" stroke-width="0.9"/>
<line x1="579.8" y1="21.9" x2="582.3" y2="21.9" stroke="#3d3535" stroke-width="0.9"/>
<text x="577.0" y="24.599999999999998" font-size="7.5" text-anchor="end" fill="#231f20"  stroke="#231f20" stroke-width="0.15">0</text>
<line x1="579.8" y1="41.4" x2="582.3" y2="41.4" stroke="#3d3535" stroke-width="0.9"/>
<text x="577.0" y="44.1" font-size="7.5" text-anchor="end" fill="#231f20"  stroke="#231f20" stroke-width="0.15">−40</text>
<line x1="579.8" y1="60.9" x2="582.3" y2="60.9" stroke="#3d3535" stroke-width="0.9"/>
<text x="577.0" y="63.6" font-size="7.5" text-anchor="end" fill="#231f20"  stroke="#231f20" stroke-width="0.15">−80</text>
<line x1="582.3" y1="65.4" x2="582.3" y2="67.9" stroke="#3d3535" stroke-width="0.9"/>
<text x="582.3" y="78.7" font-size="7.5" text-anchor="middle" fill="#231f20"  stroke="#231f20" stroke-width="0.15">1600</text>
<line x1="656.6" y1="65.4" x2="656.6" y2="67.9" stroke="#3d3535" stroke-width="0.9"/>
<text x="656.6" y="78.7" font-size="7.5" text-anchor="middle" fill="#231f20"  stroke="#231f20" stroke-width="0.15">1605</text>
<text x="618" y="88.8" font-size="7.5" text-anchor="middle" fill="#231f20"  stroke="#231f20" stroke-width="0.15">Wavelength (nm)</text>
<text transform="translate(557.8,44.2) rotate(-90)" font-size="7.5" text-anchor="middle" fill="#231f20" stroke="#231f20" stroke-width="0.15">Power (dBm)</text>
<text x="613.6" y="25.8" font-size="7.5" text-anchor="middle" fill="#231f20"  stroke="#231f20" stroke-width="0.15">0.86 nm</text>
<path d="M607.5,28.4 L611,28.4 M614.5,28.4 L618,28.4" stroke="#222" stroke-width="0.7"/>
<path d="M606.8,28.4 l2,-1 v2 z M618.7,28.4 l-2,-1 v2 z" fill="#222"/>
<rect x="230.50356699999998" y="194.9" width="3" height="116.70000000000002" fill="#fbd3c6"/>
<path d="M186.7,306.4 L187.2,305.7 L187.8,305.9 L188.4,305.8 L188.9,306.7 L189.5,305.4 L190.0,306.3 L190.6,306.0 L191.1,306.5 L191.7,305.4 L192.2,306.2 L192.8,305.8 L193.3,305.1 L193.9,304.9 L194.4,306.0 L195.0,304.6 L195.5,306.8 L196.1,304.8 L196.6,304.6 L197.2,304.8 L197.7,307.0 L198.3,305.5 L198.8,305.0 L199.4,304.7 L199.9,304.8 L200.5,306.5 L201.0,306.4 L201.6,306.6 L202.1,306.7 L202.7,305.0 L203.2,306.4 L203.8,305.8 L204.3,307.0 L204.9,307.0 L205.4,307.3 L206.0,305.1 L206.5,307.3 L207.1,307.4 L207.6,307.5 L208.2,305.4 L208.7,305.6 L209.3,305.4 L209.8,305.3 L210.4,307.4 L210.9,307.3 L211.5,306.9 L212.0,307.4 L212.6,306.9 L213.1,306.1 L213.7,305.6 L214.2,305.6 L214.8,307.4 L215.3,306.0 L215.9,306.3 L216.4,306.6 L217.0,305.6 L217.5,306.2 L218.1,306.3 L218.6,307.5 L219.2,306.6 L219.7,306.5 L220.3,308.2 L220.8,307.0 L221.4,308.0 L221.9,307.4 L222.5,305.9 L223.0,306.9 L223.6,307.0 L224.1,307.9 L224.7,306.8 L225.2,307.8 L225.8,307.4 L226.3,306.6 L226.9,308.3 L227.4,306.3 L228.0,308.2 L228.5,306.6 L229.1,306.1 L229.6,306.7 L230.2,308.2 L230.7,308.8 L231.3,306.3 L231.8,307.6 L232.4,307.6 L232.9,308.4 L233.5,306.8 L234.0,307.7 L234.6,307.3 L235.1,308.6 L235.7,307.2 L236.2,309.0 L236.8,307.3 L237.3,307.1 L237.9,308.4 L238.4,307.9 L239.0,306.9 L239.5,308.3 L240.1,306.9 L240.6,308.8 L241.2,308.6 L241.7,308.8 L242.3,308.5 L242.8,307.8 L243.4,307.9 L243.9,307.9 L244.5,309.3 L245.0,307.2 L245.6,309.3 L246.1,307.1 L246.7,307.6 L247.2,307.8 L247.8,309.5 L248.3,308.4 L248.9,308.2 L249.4,309.5 L250.0,307.8 L250.5,308.5 L251.1,308.7 L251.6,309.3 L252.2,309.3 L252.7,309.1 L253.3,308.3 L253.8,308.3 L254.4,307.9 L254.9,309.7 L255.5,309.2 L256.0,309.5 L256.6,308.0 L257.1,308.6 L257.7,309.4 L258.2,308.8 L258.8,307.6 L259.3,308.3 L259.9,309.3 L260.4,307.4 L261.0,307.1 L261.5,307.2 L262.1,308.0 L262.6,308.1 L263.2,306.0 L263.7,305.7 L264.3,305.7 L264.8,305.6 L265.4,305.8 L265.9,304.6 L266.5,304.8 L267.0,304.1 L267.6,305.9 L268.1,305.0 L268.7,303.1 L269.2,305.0 L269.8,302.5 L270.3,303.0 L270.9,304.3 L271.4,303.5 L272.0,303.1 L272.5,302.0 L273.1,301.1 L273.6,302.0 L274.2,300.3 L274.7,300.3 L275.3,300.5 L275.8,299.3 L276.4,300.0 L276.9,300.8 L277.5,300.2 L278.0,299.5 L278.6,299.6 L279.1,298.9 L279.7,297.8 L280.2,298.8 L280.8,298.0 L281.3,298.6 L281.9,298.8 L282.4,297.3 L283.0,297.5 L283.5,297.7 L284.1,296.6 L284.6,295.9 L285.2,296.9 L285.7,297.1 L286.3,296.6 L286.8,296.1 L287.4,296.3 L287.9,295.6 L288.5,295.3 L289.0,294.6 L289.6,294.0 L290.1,294.6 L290.7,293.1 L291.2,293.7 L291.8,294.5 L292.3,294.1 L292.9,293.8 L293.4,292.6 L294.0,292.9 L294.5,292.8 L295.1,293.1 L295.6,292.3 L296.2,292.8 L296.7,293.2 L297.3,290.9 L297.8,291.8 L298.4,291.8 L298.9,290.4 L299.5,290.2 L300.0,290.7 L300.6,287.5 L301.1,287.8 L301.7,287.3 L302.2,287.2 L302.8,287.0 L303.3,287.3 L303.9,284.1 L304.4,284.4 L305.0,284.5 L305.5,284.7 L306.1,283.6 L306.6,283.7 L307.2,281.6 L307.7,281.6 L308.3,281.6 L308.8,282.1 L309.4,282.7 L309.9,282.2 L310.5,280.5 L311.0,280.3 L311.6,280.2 L312.1,280.6 L312.7,281.3 L313.2,280.9 L313.8,278.2 L314.3,278.7 L314.9,278.7 L315.4,279.1 L316.0,278.7 L316.5,279.1 L317.1,276.7 L317.6,277.2 L318.2,277.0 L318.7,277.7 L319.3,277.7 L319.8,277.0 L320.4,275.1 L320.9,274.4 L321.5,275.2 L322.0,274.7 L322.6,275.5 L323.1,274.7 L323.7,272.9 L324.2,272.7 L324.8,272.8 L325.3,273.0 L325.9,272.3 L326.4,272.9 L327.0,270.5 L327.5,269.8 L328.1,269.6 L328.6,270.0 L329.2,270.1 L329.7,270.3 L330.3,267.1 L330.8,267.8 L331.4,268.3 L331.9,267.9 L332.5,267.6 L333.0,267.7 L333.6,266.0 L334.1,265.8 L334.7,266.1 L335.2,265.7 L335.8,266.6 L336.3,267.0 L336.9,264.1 L337.4,264.0 L338.0,264.4 L338.5,265.0 L339.1,265.2 L339.6,264.7 L340.2,263.1 L340.7,263.0 L341.3,262.6 L341.8,263.1 L342.4,262.6 L342.9,263.7 L343.5,260.3 L344.0,260.6 L344.6,261.2 L345.1,261.6 L345.7,261.5 L346.2,261.7 L346.8,259.2 L347.3,259.3 L347.9,259.6 L348.4,258.8 L349.0,260.0 L349.5,259.4 L350.1,257.4 L350.6,257.0 L351.2,257.1 L351.7,257.6 L352.3,257.0 L352.8,257.1 L353.4,255.2 L353.9,255.2 L354.5,255.2 L355.0,256.0 L355.6,255.4 L356.1,255.8 L356.7,252.7 L357.2,253.5 L357.8,253.9 L358.3,253.9 L358.9,253.0 L359.4,254.0 L360.0,250.7 L360.5,251.6 L361.1,251.7 L361.6,251.8 L362.2,252.2 L362.7,252.4 L363.3,248.8 L363.8,249.9 L364.4,249.5 L364.9,249.5 L365.5,250.0 L366.0,250.3 L366.6,248.0 L367.1,248.3 L367.7,248.3 L368.2,248.1 L368.8,249.0 L369.3,248.7 L369.9,245.6 L370.4,246.7 L371.0,246.6 L371.5,247.0 L372.1,246.5 L372.6,246.7 L373.2,244.5 L373.7,244.9 L374.3,244.1 L374.8,244.9 L375.4,245.4 L375.9,245.5 L376.5,243.1 L377.0,243.2 L377.6,243.2 L378.1,242.9 L378.7,243.3 L379.2,243.7 L379.8,240.6 L380.3,241.3 L380.9,240.8 L381.4,241.7 L382.0,241.0 L382.5,241.9 L383.1,239.2 L383.6,239.3 L384.2,239.5 L384.7,239.2 L385.3,240.0 L385.8,239.8 L386.4,237.1 L386.9,238.2 L387.5,237.4 L388.0,237.6 L388.6,238.0 L389.1,237.8 L389.7,236.6 L390.2,236.3 L390.8,236.7 L391.3,237.1 L391.9,237.2 L392.4,236.5 L393.0,234.3 L393.5,234.3 L394.1,235.5 L394.6,235.8 L395.2,235.6 L395.7,235.2 L396.3,233.0 L396.8,234.0 L397.4,233.6 L397.9,233.5 L398.5,234.7 L399.0,234.0 L399.6,232.4 L400.1,232.5 L400.7,232.7 L401.2,233.1 L401.8,232.3 L402.3,233.5 L402.9,230.4 L403.4,230.4 L404.0,230.8 L404.5,231.4 L405.1,231.4 L405.6,231.4 L406.2,229.3 L406.7,230.5 L407.3,230.9 L407.8,230.3 L408.4,230.6 L408.9,231.8 L409.5,229.2 L410.0,229.6 L410.6,229.5 L411.1,229.8 L411.7,230.8 L412.2,230.8 L412.8,228.4 L413.3,229.6 L413.9,229.2 L414.4,230.4 L415.0,230.9 L415.5,231.2 L416.1,228.1 L416.6,228.6 L417.2,229.1 L417.7,230.2 L418.3,229.5 L418.8,229.8 L419.4,227.9 L419.9,227.9 L420.5,228.7 L421.0,229.7 L421.6,229.3 L422.1,230.6 L422.7,228.0 L423.2,228.6 L423.8,228.4 L424.3,228.7 L424.9,229.6 L425.4,230.3 L426.0,228.4 L426.5,228.1 L427.1,229.2 L427.6,228.9 L428.2,229.7 L428.7,230.9 L429.3,227.7 L429.8,229.2 L430.4,228.9 L430.9,229.6 L431.5,230.1 L432.0,230.8 L432.6,228.7 L433.1,229.4 L433.7,230.1 L434.2,230.0 L434.8,230.2 L435.3,231.8 L435.9,229.2 L436.4,229.1 L437.0,229.9 L437.5,230.3 L438.1,231.8 L438.6,232.2 L439.2,229.4 L439.7,230.7 L440.3,231.4 L440.8,232.0 L441.4,231.9 L441.9,232.9 L442.5,230.5 L443.0,231.6 L443.6,231.7 L444.1,233.0 L444.7,233.7 L445.2,233.7 L445.8,231.8 L446.3,232.9 L446.9,232.8 L447.4,233.5 L448.0,234.5 L448.5,235.0 L449.1,232.1 L449.6,233.7 L450.2,233.7 L450.7,234.2 L451.3,234.4 L451.8,234.9 L452.4,234.0 L452.9,234.5 L453.5,235.0 L454.0,234.6 L454.6,235.4 L455.1,236.0 L455.7,234.8 L456.2,234.9 L456.8,235.9 L457.3,235.7 L457.9,236.1 L458.4,237.1 L459.0,235.0 L459.5,235.3 L460.1,235.8 L460.6,236.6 L461.2,237.0 L461.7,238.5 L462.3,236.2 L462.8,237.0 L463.4,237.5 L463.9,238.0 L464.5,238.4 L465.0,239.2 L465.6,236.9 L466.1,238.6 L466.7,238.9 L467.2,240.1 L467.8,240.5 L468.3,240.3 L468.9,238.8 L469.4,239.4 L470.0,239.7 L470.5,241.3 L471.1,241.0 L471.6,242.2 L472.2,240.4 L472.7,240.7 L473.3,241.5 L473.8,242.2 L474.4,242.9 L474.9,243.5 L475.5,241.4 L476.0,242.2 L476.6,242.1 L477.1,243.3 L477.7,243.3 L478.2,244.3 L478.8,241.9 L479.3,242.5 L479.9,243.6 L480.4,243.8 L481.0,244.2 L481.5,245.1 L482.1,242.5 L482.6,244.0 L483.2,244.8 L483.7,244.7 L484.3,244.8 L484.8,246.0 L485.4,244.4 L485.9,245.2 L486.5,245.2 L487.0,245.6 L487.6,246.2 L488.1,247.2 L488.7,244.5 L489.2,245.7 L489.8,246.7 L490.3,246.8 L490.9,247.5 L491.4,248.0 L492.0,245.6 L492.5,247.1 L493.1,247.1 L493.6,247.9 L494.2,248.9 L494.7,248.8 L495.3,246.6 L495.8,247.0 L496.4,248.1 L496.9,248.4 L497.5,249.3 L498.0,250.0 L498.6,247.9 L499.1,248.0 L499.7,248.9 L500.2,249.3 L500.8,249.6 L501.3,250.5 L501.9,248.5 L502.4,248.6 L503.0,249.1 L503.5,249.8 L504.1,251.1 L504.6,250.8 L505.2,249.6 L505.7,250.1 L506.3,250.0 L506.8,251.5 L507.4,251.4 L507.9,252.0 L508.5,250.5 L509.0,250.6 L509.6,250.9 L510.1,252.3 L510.7,252.1 L511.2,252.7 L511.8,251.4 L512.3,252.0 L512.9,251.9 L513.4,252.4 L514.0,253.2 L514.5,253.4 L515.1,251.5 L515.6,252.0 L516.2,252.4 L516.7,253.3 L517.3,253.5 L517.8,254.4 L518.4,252.2 L518.9,252.8 L519.5,253.9 L520.0,254.5 L520.6,254.5 L521.1,255.0 L521.7,253.8 L522.2,253.8 L522.8,254.4 L523.3,254.7 L523.9,255.7 L524.4,255.8 L525.0,253.9 L525.5,254.9 L526.1,255.0 L526.6,256.4 L527.2,256.5 L527.7,256.8 L528.3,254.9 L528.8,255.4 L529.4,255.7 L529.9,257.2 L530.5,257.5 L531.0,257.7 L531.6,255.6 L532.1,256.2 L532.7,256.5 L533.2,257.5 L533.8,258.5 L534.3,259.1 L534.9,256.4 L535.4,257.5 L536.0,257.7 L536.5,258.6 L537.1,259.4 L537.6,259.2 L538.2,258.0 L538.7,258.3 L539.3,258.1 L539.8,259.0 L540.4,259.2 L540.9,260.5 L541.5,258.7 L542.0,258.6 L542.6,259.7 L543.1,259.5 L543.7,261.0 L544.2,261.6 L544.8,258.6 L545.3,259.3 L545.9,260.0 L546.4,260.4 L547.0,261.3 L547.5,262.4 L548.1,259.5 L548.6,261.1 L549.2,261.4 L549.7,261.9 L550.3,261.7 L550.8,262.9 L551.4,260.4 L551.9,260.9 L552.5,262.3 L553.0,263.1 L553.6,263.2 L554.1,263.2 L554.7,261.5 L555.2,261.8 L555.8,263.0 L556.3,263.1 L556.9,263.9 L557.4,264.3 L558.0,262.0 L558.5,262.8 L559.1,263.7 L559.6,264.4 L560.2,264.7 L560.7,265.7 L561.3,263.0 L561.8,263.3 L562.4,264.0 L562.9,264.9 L563.5,265.3 L564.0,265.7 L564.6,263.5 L565.1,264.9 L565.7,265.5 L566.2,265.3 L566.8,266.3 L567.3,267.0 L567.9,265.4 L568.4,266.0 L569.0,265.7 L569.5,266.1 L570.1,267.5 L570.6,267.3 L571.2,266.1 L571.7,265.8 L572.3,267.2 L572.8,267.0 L573.4,267.7 L573.9,268.6 L574.5,266.9 L575.0,267.1 L575.6,268.0 L576.1,268.6 L576.7,268.7 L577.2,269.0 L577.8,266.8 L578.3,267.4 L578.9,269.0 L579.4,268.9 L580.0,269.8 L580.5,270.5 L581.1,268.4 L581.6,268.8 L582.2,269.1 L582.7,269.7 L583.3,270.7 L583.8,270.7 L584.4,269.0 L584.9,269.1 L585.5,269.8 L586.0,271.1 L586.6,271.7 L587.1,271.9 L587.7,269.2 L588.2,270.0 L588.8,271.4 L589.3,271.6 L589.9,271.8 L590.4,272.2 L591.0,270.5 L591.5,271.3 L592.1,271.8 L592.6,272.3 L593.1,272.4 L593.7,273.9 L594.2,270.9 L594.8,271.5 L595.3,272.3 L595.9,273.2 L596.4,273.9 L597.0,274.5 L597.5,272.3 L598.1,272.9 L598.6,273.6 L599.2,273.7 L599.7,275.0 L600.3,275.7 L600.8,273.2 L601.4,273.6 L601.9,275.1 L602.5,275.2 L603.0,276.1 L603.6,275.9 L604.1,274.7 L604.7,274.4 L605.2,275.2 L605.8,276.0 L606.3,276.2 L606.9,277.5 L607.4,275.1 L608.0,275.8 L608.5,276.9 L609.1,277.2 L609.6,278.4 L610.2,278.7 L610.7,277.1 L611.3,277.3 L611.8,278.4 L612.4,279.0 L612.9,278.8 L613.5,280.2 L614.0,277.8 L614.6,278.9 L615.1,279.5 L615.7,280.3 L616.2,280.1 L616.8,281.1 L617.3,279.6 L617.9,280.5 L618.4,280.9 L619.0,280.7 L619.5,282.1 L620.1,282.1 L620.6,280.7 L621.2,281.6 L621.7,281.4 L622.3,283.1 L622.8,283.4 L623.4,283.5 L623.9,281.5 L624.5,282.4 L625.0,283.5 L625.6,283.8 L626.1,283.9 L626.7,284.4 L627.2,282.5 L627.8,284.0 L628.3,283.9 L628.9,284.9 L629.4,285.2 L630.0,286.3 L630.5,284.0 L631.1,284.3 L631.6,285.8 L632.2,286.0 L632.7,286.8 L633.3,287.6 L633.8,285.8 L634.4,285.3 L634.9,286.3 L635.5,286.7 L636.0,287.8 L636.6,288.9 L637.1,286.8 L637.7,286.5 L638.2,287.3 L638.8,288.7 L639.3,289.2 L639.9,289.5 L640.4,287.6 L641.0,287.9 L641.5,289.3 L642.1,289.4 L642.6,290.6 L643.2,291.0 L643.7,288.4 L644.3,289.3 L644.8,289.8 L645.4,291.3 L645.9,291.5 L646.5,291.5 L647.0,289.7 L647.6,290.6 L648.1,291.4 L648.7,292.2 L649.2,292.6 L649.8,293.2 L650.3,290.8 L650.9,292.2 L651.4,292.6 L652.0,292.8 L652.5,294.0 L653.1,295.3 L653.6,292.2 L654.2,293.0 L654.7,294.3 L655.3,294.5 L655.8,295.1 L656.4,296.0 L656.9,293.8 L657.5,294.8 L658.0,295.4 L658.6,296.6 L659.1,297.2 L659.7,296.7 L660.2,295.4 L660.8,296.3 L661.3,297.0 L661.9,297.5 L662.4,297.9 L663.0,298.5 L663.5,296.1 L664.1,296.6 L664.6,297.8 L665.2,298.4 L665.7,299.0 L666.3,299.2 L666.8,296.6 L667.4,297.7 L667.9,298.1 L668.5,298.3 L669.0,298.9 L669.6,299.1 L670.1,297.2 L670.7,297.5 L671.2,297.5 L671.8,298.3 L672.3,298.8 L672.9,300.0 L673.4,297.3 L674.0,297.6 L674.5,297.9 L674.5,312.1 L674.0,312.1 L673.4,312.1 L672.9,312.1 L672.3,312.1 L671.8,312.1 L671.2,312.1 L670.7,312.1 L670.1,312.1 L669.6,312.1 L669.0,312.1 L668.5,312.1 L667.9,312.1 L667.4,312.1 L666.8,312.1 L666.3,312.1 L665.7,312.1 L665.2,312.1 L664.6,312.1 L664.1,312.1 L663.5,312.1 L663.0,312.1 L662.4,312.1 L661.9,312.1 L661.3,312.1 L660.8,312.1 L660.2,312.1 L659.7,312.1 L659.1,312.1 L658.6,312.1 L658.0,312.1 L657.5,312.1 L656.9,312.1 L656.4,312.1 L655.8,312.1 L655.3,312.1 L654.7,312.1 L654.2,312.1 L653.6,312.1 L653.1,312.1 L652.5,312.1 L652.0,312.1 L651.4,312.1 L650.9,312.1 L650.3,312.1 L649.8,312.1 L649.2,312.1 L648.7,312.1 L648.1,312.1 L647.6,312.1 L647.0,312.1 L646.5,312.1 L645.9,312.1 L645.4,312.1 L644.8,312.1 L644.3,312.1 L643.7,312.1 L643.2,312.1 L642.6,312.1 L642.1,312.1 L641.5,312.1 L641.0,312.1 L640.4,312.1 L639.9,312.1 L639.3,312.1 L638.8,312.1 L638.2,312.1 L637.7,312.1 L637.1,312.1 L636.6,312.1 L636.0,312.1 L635.5,312.1 L634.9,312.1 L634.4,312.1 L633.8,312.1 L633.3,312.1 L632.7,312.1 L632.2,312.1 L631.6,312.1 L631.1,312.1 L630.5,312.1 L630.0,312.1 L629.4,312.1 L628.9,312.1 L628.3,312.1 L627.8,312.1 L627.2,312.1 L626.7,312.1 L626.1,312.1 L625.6,312.1 L625.0,312.1 L624.5,312.1 L623.9,312.1 L623.4,312.1 L622.8,312.1 L622.3,312.1 L621.7,312.1 L621.2,312.1 L620.6,312.1 L620.1,312.1 L619.5,312.1 L619.0,312.1 L618.4,312.1 L617.9,312.1 L617.3,312.1 L616.8,312.1 L616.2,312.1 L615.7,312.1 L615.1,312.1 L614.6,312.1 L614.0,312.1 L613.5,312.1 L612.9,312.1 L612.4,312.1 L611.8,312.1 L611.3,312.1 L610.7,312.1 L610.2,312.1 L609.6,312.1 L609.1,312.1 L608.5,312.1 L608.0,312.1 L607.4,312.1 L606.9,312.1 L606.3,312.1 L605.8,312.1 L605.2,312.1 L604.7,312.1 L604.1,312.1 L603.6,312.1 L603.0,312.1 L602.5,312.1 L601.9,312.1 L601.4,312.1 L600.8,312.1 L600.3,312.1 L599.7,311.9 L599.2,312.1 L598.6,312.1 L598.1,312.1 L597.5,311.9 L597.0,311.9 L596.4,312.1 L595.9,312.0 L595.3,312.1 L594.8,312.1 L594.2,312.1 L593.7,312.1 L593.1,312.0 L592.6,312.1 L592.1,312.1 L591.5,312.0 L591.0,311.6 L590.4,312.1 L589.9,312.1 L589.3,311.5 L588.8,311.6 L588.2,311.5 L587.7,312.1 L587.1,311.5 L586.6,311.4 L586.0,311.1 L585.5,312.1 L584.9,309.8 L584.4,309.9 L583.8,309.8 L583.3,312.1 L582.7,309.6 L582.2,309.1 L581.6,309.1 L581.1,312.1 L580.5,309.1 L580.0,307.9 L579.4,307.9 L578.9,312.1 L578.3,307.9 L577.8,308.0 L577.2,307.7 L576.7,312.1 L576.1,307.7 L575.6,307.3 L575.0,307.0 L574.5,312.1 L573.9,306.4 L573.4,306.3 L572.8,306.6 L572.3,312.1 L571.7,306.2 L571.2,306.2 L570.6,305.7 L570.1,312.1 L569.5,304.7 L569.0,304.8 L568.4,305.1 L567.9,312.1 L567.3,304.0 L566.8,304.1 L566.2,304.2 L565.7,312.1 L565.1,303.5 L564.6,304.3 L564.0,303.1 L563.5,310.5 L562.9,302.8 L562.4,303.3 L561.8,302.7 L561.3,309.1 L560.7,302.2 L560.2,302.7 L559.6,302.4 L559.1,312.1 L558.5,302.3 L558.0,301.8 L557.4,302.0 L556.9,311.9 L556.3,301.3 L555.8,300.8 L555.2,301.2 L554.7,306.0 L554.1,300.4 L553.6,300.2 L553.0,300.4 L552.5,305.7 L551.9,300.2 L551.4,300.1 L550.8,300.1 L550.3,308.2 L549.7,299.2 L549.2,299.5 L548.6,299.1 L548.1,309.3 L547.5,298.4 L547.0,298.7 L546.4,298.5 L545.9,308.4 L545.3,298.3 L544.8,297.5 L544.2,297.7 L543.7,308.1 L543.1,297.6 L542.6,296.9 L542.0,296.9 L541.5,304.6 L540.9,296.3 L540.4,296.2 L539.8,296.2 L539.3,305.2 L538.7,295.4 L538.2,296.0 L537.6,295.2 L537.1,301.7 L536.5,295.0 L536.0,295.3 L535.4,294.8 L534.9,298.8 L534.3,294.2 L533.8,294.9 L533.2,294.8 L532.7,303.1 L532.1,293.7 L531.6,293.3 L531.0,293.7 L530.5,298.0 L529.9,293.1 L529.4,292.8 L528.8,292.9 L528.3,301.3 L527.7,293.0 L527.2,292.6 L526.6,291.9 L526.1,300.3 L525.5,291.9 L525.0,292.3 L524.4,291.9 L523.9,296.9 L523.3,291.9 L522.8,291.7 L522.2,291.3 L521.7,308.3 L521.1,290.7 L520.6,290.9 L520.0,289.9 L519.5,301.6 L518.9,289.6 L518.4,289.7 L517.8,289.5 L517.3,294.2 L516.7,289.3 L516.2,289.3 L515.6,289.1 L515.1,294.0 L514.5,288.4 L514.0,288.9 L513.4,288.8 L512.9,297.1 L512.3,287.7 L511.8,287.8 L511.2,287.7 L510.7,297.7 L510.1,287.6 L509.6,286.6 L509.0,287.0 L508.5,294.6 L507.9,286.0 L507.4,286.2 L506.8,286.2 L506.3,296.3 L505.7,285.5 L505.2,285.3 L504.6,284.8 L504.1,293.3 L503.5,285.0 L503.0,284.3 L502.4,284.8 L501.9,296.6 L501.3,284.7 L500.8,284.1 L500.2,283.8 L499.7,299.2 L499.1,283.8 L498.6,282.6 L498.0,282.8 L497.5,286.9 L496.9,283.2 L496.4,282.5 L495.8,281.9 L495.3,289.5 L494.7,281.5 L494.2,282.1 L493.6,281.8 L493.1,285.8 L492.5,281.5 L492.0,280.7 L491.4,281.1 L490.9,291.5 L490.3,280.3 L489.8,280.7 L489.2,280.1 L488.7,286.3 L488.1,279.7 L487.6,280.0 L487.0,279.5 L486.5,287.9 L485.9,279.1 L485.4,278.9 L484.8,279.2 L484.3,282.6 L483.7,278.8 L483.2,277.9 L482.6,278.4 L482.1,288.3 L481.5,277.8 L481.0,277.2 L480.4,277.0 L479.9,287.1 L479.3,276.9 L478.8,276.9 L478.2,276.5 L477.7,283.6 L477.1,276.5 L476.6,276.5 L476.0,276.1 L475.5,283.9 L474.9,275.2 L474.4,275.2 L473.8,275.6 L473.3,284.4 L472.7,275.3 L472.2,275.3 L471.6,274.9 L471.1,280.7 L470.5,274.7 L470.0,273.9 L469.4,274.3 L468.9,278.1 L468.3,274.2 L467.8,273.2 L467.2,273.2 L466.7,280.5 L466.1,272.8 L465.6,272.8 L465.0,272.9 L464.5,277.9 L463.9,272.2 L463.4,272.4 L462.8,272.1 L462.3,280.4 L461.7,272.0 L461.2,271.8 L460.6,271.3 L460.1,277.3 L459.5,270.9 L459.0,271.2 L458.4,270.8 L457.9,279.0 L457.3,271.0 L456.8,270.5 L456.2,270.5 L455.7,278.7 L455.1,270.4 L454.6,270.4 L454.0,270.3 L453.5,280.1 L452.9,270.0 L452.4,270.0 L451.8,269.2 L451.3,276.4 L450.7,281.1 L450.2,281.0 L449.6,280.3 L449.1,290.7 L448.5,280.5 L448.0,280.3 L447.4,280.1 L446.9,286.9 L446.3,279.3 L445.8,278.7 L445.2,278.9 L444.7,292.8 L444.1,277.6 L443.6,277.8 L443.0,277.9 L442.5,294.1 L441.9,276.7 L441.4,276.7 L440.8,276.0 L440.3,282.6 L439.7,276.1 L439.2,276.0 L438.6,275.4 L438.1,285.8 L437.5,275.2 L437.0,275.0 L436.4,275.8 L435.9,285.7 L435.3,275.1 L434.8,275.4 L434.2,275.2 L433.7,283.3 L433.1,275.2 L432.6,274.4 L432.0,274.6 L431.5,294.9 L430.9,274.2 L430.4,274.9 L429.8,274.2 L429.3,288.6 L428.7,274.3 L428.2,274.6 L427.6,274.5 L427.1,283.4 L426.5,273.6 L426.0,274.1 L425.4,274.1 L424.9,281.8 L424.3,273.9 L423.8,273.2 L423.2,273.9 L422.7,285.7 L422.1,273.2 L421.6,273.4 L421.0,273.5 L420.5,285.6 L419.9,273.7 L419.4,273.9 L418.8,273.6 L418.3,281.5 L417.7,273.9 L417.2,273.9 L416.6,273.1 L416.1,283.4 L415.5,273.7 L415.0,273.0 L414.4,273.1 L413.9,283.7 L413.3,273.4 L412.8,273.4 L412.2,273.5 L411.7,280.4 L411.1,273.9 L410.6,273.4 L410.0,273.9 L409.5,282.4 L408.9,274.0 L408.4,274.4 L407.8,273.9 L407.3,287.8 L406.7,273.7 L406.2,273.5 L405.6,274.3 L405.1,280.8 L404.5,273.8 L404.0,273.8 L403.4,274.1 L402.9,285.4 L402.3,274.6 L401.8,274.7 L401.2,274.0 L400.7,286.9 L400.1,274.2 L399.6,275.2 L399.0,274.7 L398.5,288.6 L397.9,275.6 L397.4,275.1 L396.8,275.5 L396.3,286.3 L395.7,276.1 L395.2,275.6 L394.6,275.4 L394.1,280.4 L393.5,276.3 L393.0,276.0 L392.4,276.3 L391.9,283.4 L391.3,277.3 L390.8,277.2 L390.2,277.2 L389.7,283.8 L389.1,277.4 L388.6,278.2 L388.0,278.5 L387.5,283.7 L386.9,278.7 L386.4,278.5 L385.8,279.2 L385.3,283.3 L384.7,279.3 L384.2,279.5 L383.6,280.1 L383.1,286.6 L382.5,280.3 L382.0,281.1 L381.4,280.9 L380.9,284.6 L380.3,281.4 L379.8,281.8 L379.2,282.4 L378.7,288.0 L378.1,281.9 L377.6,283.1 L377.0,283.2 L376.5,288.0 L375.9,283.8 L375.4,283.2 L374.8,284.3 L374.3,287.7 L373.7,284.3 L373.2,285.2 L372.6,285.3 L372.1,289.5 L371.5,285.7 L371.0,286.5 L370.4,286.0 L369.9,293.2 L369.3,286.6 L368.8,287.5 L368.2,287.8 L367.7,292.9 L367.1,288.0 L366.6,288.1 L366.0,288.7 L365.5,291.7 L364.9,289.9 L364.4,290.1 L363.8,289.7 L363.3,292.8 L362.7,291.1 L362.2,291.0 L361.6,291.6 L361.1,294.6 L360.5,292.7 L360.0,293.0 L359.4,292.7 L358.9,298.9 L358.3,293.4 L357.8,293.8 L357.2,294.2 L356.7,299.3 L356.1,295.0 L355.6,295.2 L355.0,296.0 L354.5,301.2 L353.9,296.1 L353.4,297.4 L352.8,297.5 L352.3,306.3 L351.7,298.2 L351.2,297.9 L350.6,298.1 L350.1,303.2 L349.5,299.0 L349.0,299.0 L348.4,299.4 L347.9,304.4 L347.3,299.5 L346.8,299.4 L346.2,300.1 L345.7,305.2 L345.1,300.9 L344.6,300.8 L344.0,301.3 L343.5,307.8 L342.9,301.3 L342.4,301.8 L341.8,302.0 L341.3,305.5 L340.7,302.0 L340.2,302.6 L339.6,302.6 L339.1,306.9 L338.5,302.8 L338.0,303.3 L337.4,303.4 L336.9,308.3 L336.3,303.8 L335.8,304.0 L335.2,304.6 L334.7,309.0 L334.1,305.3 L333.6,305.5 L333.0,305.4 L332.5,310.6 L331.9,306.3 L331.4,305.9 L330.8,306.5 L330.3,312.1 L329.7,307.3 L329.2,307.2 L328.6,307.1 L328.1,312.1 L327.5,307.9 L327.0,308.6 L326.4,308.9 L325.9,312.1 L325.3,310.1 L324.8,310.5 L324.2,310.7 L323.7,312.1 L323.1,311.4 L322.6,311.0 L322.0,311.1 L321.5,312.1 L320.9,312.1 L320.4,311.4 L319.8,312.1 L319.3,312.1 L318.7,311.6 L318.2,312.1 L317.6,312.1 L317.1,312.1 L316.5,311.8 L316.0,312.1 L315.4,311.8 L314.9,312.1 L314.3,312.1 L313.8,312.1 L313.2,312.1 L312.7,312.1 L312.1,312.1 L311.6,312.1 L311.0,312.1 L310.5,312.1 L309.9,311.8 L309.4,312.1 L308.8,311.9 L308.3,312.1 L307.7,312.0 L307.2,312.1 L306.6,312.1 L306.1,312.1 L305.5,312.1 L305.0,311.9 L304.4,312.1 L303.9,312.1 L303.3,312.1 L302.8,312.1 L302.2,312.1 L301.7,312.1 L301.1,312.1 L300.6,312.0 L300.0,311.8 L299.5,312.1 L298.9,312.1 L298.4,312.1 L297.8,312.1 L297.3,312.1 L296.7,312.1 L296.2,312.1 L295.6,312.1 L295.1,312.1 L294.5,312.1 L294.0,312.1 L293.4,312.1 L292.9,312.1 L292.3,312.1 L291.8,312.1 L291.2,312.1 L290.7,312.1 L290.1,312.1 L289.6,312.1 L289.0,312.1 L288.5,312.1 L287.9,312.1 L287.4,312.1 L286.8,312.1 L286.3,312.1 L285.7,312.1 L285.2,312.1 L284.6,312.1 L284.1,312.1 L283.5,312.1 L283.0,312.1 L282.4,312.1 L281.9,312.1 L281.3,312.1 L280.8,312.1 L280.2,312.1 L279.7,312.1 L279.1,312.1 L278.6,312.1 L278.0,312.1 L277.5,312.1 L276.9,312.1 L276.4,312.1 L275.8,312.1 L275.3,312.1 L274.7,312.1 L274.2,312.1 L273.6,312.1 L273.1,312.1 L272.5,312.1 L272.0,312.1 L271.4,312.1 L270.9,312.1 L270.3,312.1 L269.8,312.1 L269.2,312.1 L268.7,312.1 L268.1,312.1 L267.6,312.1 L267.0,312.1 L266.5,312.1 L265.9,312.1 L265.4,312.1 L264.8,312.1 L264.3,312.1 L263.7,312.1 L263.2,312.1 L262.6,312.1 L262.1,312.1 L261.5,312.1 L261.0,312.1 L260.4,312.1 L259.9,312.1 L259.3,312.1 L258.8,312.1 L258.2,312.1 L257.7,312.1 L257.1,312.1 L256.6,312.1 L256.0,312.1 L255.5,312.1 L254.9,312.1 L254.4,312.1 L253.8,312.1 L253.3,312.1 L252.7,312.1 L252.2,312.1 L251.6,312.1 L251.1,312.1 L250.5,312.1 L250.0,312.1 L249.4,312.1 L248.9,312.1 L248.3,312.1 L247.8,312.1 L247.2,312.1 L246.7,312.1 L246.1,312.1 L245.6,312.1 L245.0,312.1 L244.5,312.1 L243.9,312.1 L243.4,312.1 L242.8,312.1 L242.3,312.1 L241.7,312.1 L241.2,312.1 L240.6,312.1 L240.1,312.1 L239.5,312.1 L239.0,312.1 L238.4,312.1 L237.9,312.1 L237.3,312.1 L236.8,312.1 L236.2,312.1 L235.7,312.1 L235.1,312.1 L234.6,312.1 L234.0,312.1 L233.5,312.1 L232.9,312.1 L232.4,312.1 L231.8,312.1 L231.3,312.1 L230.7,312.1 L230.2,312.1 L229.6,312.1 L229.1,312.1 L228.5,312.1 L228.0,312.1 L227.4,312.1 L226.9,312.1 L226.3,312.1 L225.8,312.1 L225.2,312.1 L224.7,312.1 L224.1,312.1 L223.6,312.1 L223.0,312.1 L222.5,312.1 L221.9,312.1 L221.4,312.1 L220.8,312.1 L220.3,312.1 L219.7,312.1 L219.2,312.1 L218.6,312.1 L218.1,312.1 L217.5,312.1 L217.0,312.1 L216.4,312.1 L215.9,312.1 L215.3,312.1 L214.8,312.1 L214.2,312.1 L213.7,312.1 L213.1,312.1 L212.6,312.1 L212.0,312.1 L211.5,312.1 L210.9,312.1 L210.4,312.1 L209.8,312.1 L209.3,312.1 L208.7,312.1 L208.2,312.1 L207.6,312.1 L207.1,312.1 L206.5,312.1 L206.0,312.1 L205.4,312.1 L204.9,312.1 L204.3,312.1 L203.8,312.1 L203.2,312.1 L202.7,312.1 L202.1,312.1 L201.6,312.1 L201.0,312.1 L200.5,312.1 L199.9,312.1 L199.4,312.1 L198.8,312.1 L198.3,312.1 L197.7,312.1 L197.2,312.1 L196.6,312.1 L196.1,312.1 L195.5,312.1 L195.0,312.1 L194.4,312.1 L193.9,312.1 L193.3,312.1 L192.8,312.1 L192.2,312.1 L191.7,312.1 L191.1,312.1 L190.6,312.1 L190.0,312.1 L189.5,312.1 L188.9,312.1 L188.4,312.1 L187.8,312.1 L187.2,312.1 L186.7,312.1 Z" fill="#0062a8"/>
<line x1="227.5" y1="280.4" x2="227.5" y2="308.3602739726028" stroke="#0d67b0" stroke-width="0.95"/>
<line x1="231.2" y1="273.6" x2="231.2" y2="308.5528767123288" stroke="#0d67b0" stroke-width="0.95"/>
<line x1="232.3" y1="270.6" x2="232.3" y2="308.61013698630137" stroke="#0d67b0" stroke-width="0.95"/>
<line x1="234.2" y1="256.3" x2="234.2" y2="308.7090410958904" stroke="#0d67b0" stroke-width="0.95"/>
<line x1="235" y1="273.6" x2="235" y2="308.75068493150684" stroke="#0d67b0" stroke-width="0.95"/>
<line x1="239.5" y1="290.2" x2="239.5" y2="308.9849315068493" stroke="#0d67b0" stroke-width="0.95"/>
<line x1="237.6" y1="300" x2="237.6" y2="308.8860273972603" stroke="#0d67b0" stroke-width="0.95"/>
<line x1="245.8" y1="277.4" x2="245.8" y2="309.3128767123288" stroke="#0d67b0" stroke-width="0.95"/>
<line x1="251.8" y1="300" x2="251.8" y2="309.62520547945206" stroke="#0d67b0" stroke-width="0.95"/>
<line x1="258.3" y1="278.7" x2="258.3" y2="309.61788107782627" stroke="#0d67b0" stroke-width="0.95"/>
<line x1="263.7" y1="279.8" x2="263.7" y2="307.62417582417584" stroke="#0d67b0" stroke-width="0.95"/>
<line x1="269.2" y1="276.1" x2="269.2" y2="304.84395604395604" stroke="#0d67b0" stroke-width="0.95"/>
<line x1="270.8" y1="281" x2="270.8" y2="304.03516483516484" stroke="#0d67b0" stroke-width="0.95"/>
<line x1="276.5" y1="270.6" x2="276.5" y2="301.19600274725275" stroke="#0d67b0" stroke-width="0.95"/>
<line x1="289.3" y1="277.2" x2="289.3" y2="295.60699999999997" stroke="#0d67b0" stroke-width="0.95"/>
<line x1="301" y1="263.3" x2="301" y2="289.8875" stroke="#0d67b0" stroke-width="0.95"/>
<line x1="313" y1="269.9" x2="313" y2="281.8402962962963" stroke="#0d67b0" stroke-width="0.95"/>
<line x1="342.2" y1="254.2" x2="342.2" y2="264.25" stroke="#0d67b0" stroke-width="0.95"/>
<line x1="202.6" y1="300" x2="202.6" y2="307.09944134078216" stroke="#0d67b0" stroke-width="0.95"/>
<line x1="210.6" y1="299" x2="210.6" y2="307.5016759776537" stroke="#0d67b0" stroke-width="0.95"/>
<line x1="264" y1="300" x2="264" y2="307.4725274725275" stroke="#0d67b0" stroke-width="0.95"/>
<line x1="282" y1="296" x2="282" y2="298.7" stroke="#0d67b0" stroke-width="0.95"/>
<line x1="230.3" y1="286" x2="230.3" y2="308.5060273972603" stroke="#0d67b0" stroke-width="0.95"/>
<line x1="233" y1="279" x2="233" y2="308.6465753424658" stroke="#0d67b0" stroke-width="0.95"/>
<line x1="236.2" y1="283" x2="236.2" y2="308.81315068493154" stroke="#0d67b0" stroke-width="0.95"/>
<line x1="237.3" y1="292" x2="237.3" y2="308.87041095890413" stroke="#0d67b0" stroke-width="0.95"/>
<line x1="229.6" y1="295" x2="229.6" y2="308.4695890410959" stroke="#0d67b0" stroke-width="0.95"/>
<path d="M229.5,312.1 L230.5,300 L231.5,294 L232.5,293 L233.5,295 L235,299 L237,303 L238,312.1 Z" fill="#0062a8"/>
<line x1="400.2" y1="194.4" x2="400.2" y2="240" stroke="#1c6fb5" stroke-width="0.9"/>
<rect x="647.007134" y="194.9" width="3" height="116.70000000000002" fill="#f4977c" fill-opacity="0.45"/>
<rect x="190" y="198.5" width="150" height="35.5" fill="#fff"/>
<rect x="576" y="198.2" width="96" height="67.3" fill="#fff"/>
<rect x="186.7" y="194.4" width="488.09999999999997" height="117.70000000000002" fill="none" stroke="#3d3535" stroke-width="1"/>
<line x1="183.2" y1="201.4" x2="186.7" y2="201.4" stroke="#3d3535" stroke-width="1"/>
<text x="178.89999999999998" y="204.6" font-size="9" text-anchor="end" fill="#231f20"  stroke="#231f20" stroke-width="0.15">0</text>
<line x1="183.2" y1="231.3" x2="186.7" y2="231.3" stroke="#3d3535" stroke-width="1"/>
<text x="178.89999999999998" y="234.5" font-size="9" text-anchor="end" fill="#231f20"  stroke="#231f20" stroke-width="0.15">−20</text>
<line x1="183.2" y1="260.8" x2="186.7" y2="260.8" stroke="#3d3535" stroke-width="1"/>
<text x="178.89999999999998" y="264.0" font-size="9" text-anchor="end" fill="#231f20"  stroke="#231f20" stroke-width="0.15">−40</text>
<line x1="183.2" y1="290.4" x2="186.7" y2="290.4" stroke="#3d3535" stroke-width="1"/>
<text x="178.89999999999998" y="293.59999999999997" font-size="9" text-anchor="end" fill="#231f20"  stroke="#231f20" stroke-width="0.15">−60</text>
<line x1="191.1" y1="312.1" x2="191.1" y2="315.70000000000005" stroke="#3d3535" stroke-width="1"/>
<text x="191.1" y="327.3" font-size="9" text-anchor="middle" fill="#231f20"  stroke="#231f20" stroke-width="0.15">1000</text>
<line x1="265.52" y1="312.1" x2="265.52" y2="315.70000000000005" stroke="#3d3535" stroke-width="1"/>
<text x="265.52" y="327.3" font-size="9" text-anchor="middle" fill="#231f20"  stroke="#231f20" stroke-width="0.15">1200</text>
<line x1="339.94" y1="312.1" x2="339.94" y2="315.70000000000005" stroke="#3d3535" stroke-width="1"/>
<text x="339.94" y="327.3" font-size="9" text-anchor="middle" fill="#231f20"  stroke="#231f20" stroke-width="0.15">1400</text>
<line x1="414.36" y1="312.1" x2="414.36" y2="315.70000000000005" stroke="#3d3535" stroke-width="1"/>
<text x="414.36" y="327.3" font-size="9" text-anchor="middle" fill="#231f20"  stroke="#231f20" stroke-width="0.15">1600</text>
<line x1="488.78" y1="312.1" x2="488.78" y2="315.70000000000005" stroke="#3d3535" stroke-width="1"/>
<text x="488.78" y="327.3" font-size="9" text-anchor="middle" fill="#231f20"  stroke="#231f20" stroke-width="0.15">1800</text>
<line x1="563.1999999999999" y1="312.1" x2="563.1999999999999" y2="315.70000000000005" stroke="#3d3535" stroke-width="1"/>
<text x="563.1999999999999" y="327.3" font-size="9" text-anchor="middle" fill="#231f20"  stroke="#231f20" stroke-width="0.15">2000</text>
<line x1="637.62" y1="312.1" x2="637.62" y2="315.70000000000005" stroke="#3d3535" stroke-width="1"/>
<text x="637.62" y="327.3" font-size="9" text-anchor="middle" fill="#231f20"  stroke="#231f20" stroke-width="0.15">2200</text>
<text x="428.3" y="341.5" font-size="9" text-anchor="middle" fill="#231f20"  stroke="#231f20" stroke-width="0.15">Wavelength (nm)</text>
<text x="193.5" y="207.5" font-size="7.5" fill="#231f20" stroke="#231f20" stroke-width="0.15"><tspan font-style="italic">f</tspan><tspan font-size="4.65" dy="1.6">r</tspan><tspan dy="-1.6"> = 25 GHz</tspan></text>
<text x="193.5" y="220.4" font-size="7.5" text-anchor="start" fill="#231f20"  stroke="#231f20" stroke-width="0.15">Pump power on bus waveguide: 139 mW</text>
<text x="193.5" y="230.9" font-size="7.5" text-anchor="start" fill="#231f20"  stroke="#231f20" stroke-width="0.15">Pump-to-comb conversion efficiency: 1 %</text>
<text transform="translate(155.8,253.5) rotate(-90)" font-size="9" text-anchor="middle" fill="#231f20" stroke="#231f20" stroke-width="0.15">On-chip power (dBm)</text>
<text x="207.0" y="191.2" font-size="9.3" text-anchor="start" fill="#231f20"  stroke="#231f20" stroke-width="0.15">1111.27 nm</text>
<text x="627.0" y="191.2" font-size="9.3" text-anchor="start" fill="#231f20"  stroke="#231f20" stroke-width="0.15">2222.54 nm</text>
<text x="435.0" y="191.1" font-size="9.1" text-anchor="middle" fill="#231f20"  stroke="#231f20" stroke-width="0.15">Octave</text>
<path d="M260,188.8 L417.5,188.8 M451.4,188.8 L621,188.8" stroke="#333" stroke-width="0.7"/>
<path d="M257.2,188.8 l4,-1.6 v3.2 z M624.2,188.8 l-4,-1.6 v3.2 z" fill="#333"/>
<path d="M582.3,239.9 L582.6,240.1 L582.9,239.7 L583.2,239.5 L583.5,241.0 L583.8,240.3 L584.1,240.3 L584.4,240.5 L584.7,240.0 L585.0,239.7 L585.3,239.6 L585.6,240.0 L585.9,240.0 L586.2,240.7 L586.5,240.4 L586.8,241.1 L587.1,240.0 L587.4,241.1 L587.7,240.5 L588.0,239.6 L588.3,239.7 L588.6,240.5 L588.9,241.2 L589.2,240.1 L589.5,240.8 L589.8,240.2 L590.1,241.0 L590.4,239.5 L590.7,240.3 L591.0,241.0 L591.3,239.9 L591.6,239.9 L591.9,239.4 L592.2,239.7 L592.5,239.9 L592.8,240.7 L593.1,239.8 L593.4,240.1 L593.7,239.8 L594.0,240.5 L594.3,240.9 L594.6,240.6 L594.9,239.7 L595.2,240.7 L595.5,241.1 L595.8,240.5 L596.1,239.5 L596.4,240.8 L596.7,240.9 L597.0,240.0 L597.3,239.6 L597.6,239.7 L597.9,240.3 L598.2,240.9 L598.5,240.5 L598.8,241.0 L599.1,239.7 L599.4,239.9 L599.7,240.7 L600.0,240.5 L600.3,240.1 L600.6,240.6 L600.9,240.0 L601.2,239.4 L601.5,240.1 L601.8,239.4 L602.1,240.5 L602.4,239.9 L602.7,240.2 L603.0,240.4 L603.3,239.8 L603.6,240.2 L603.9,239.4 L604.2,241.0 L604.5,240.3 L604.8,241.1 L605.1,239.4 L605.4,240.4 L605.7,240.6 L606.0,239.9 L606.3,239.5 L606.6,239.6 L606.9,239.6 L607.2,240.7 L607.5,239.5 L607.8,240.8 L608.1,240.1 L608.4,240.3 L608.7,240.3 L609.0,240.0 L609.3,240.0 L609.6,239.7 L609.9,239.0 L610.2,239.5 L610.5,238.4 L610.8,239.0 L611.1,238.6 L611.4,238.1 L611.7,236.8 L612.0,237.2 L612.3,237.1 L612.6,235.6 L612.9,234.8 L613.2,234.8 L613.5,235.1 L613.8,233.1 L614.1,232.4 L614.4,232.7 L614.7,232.3 L615.0,231.7 L615.3,230.3 L615.6,230.6 L615.9,228.5 L616.2,228.7 L616.5,226.8 L616.8,226.0 L617.1,225.5 L617.4,224.7 L617.7,224.9 L618.0,224.3 L618.3,222.4 L618.6,222.3 L618.9,216.3 L619.2,202.7 L619.5,201.1 L619.8,201.7 L620.1,206.7 L620.4,218.7 L620.7,221.8 L621.0,222.9 L621.3,223.9 L621.6,225.5 L621.9,226.5 L622.2,225.8 L622.5,226.2 L622.8,228.3 L623.1,228.0 L623.4,230.1 L623.7,230.0 L624.0,231.0 L624.3,231.2 L624.6,232.8 L624.9,232.9 L625.2,233.2 L625.5,234.7 L625.8,233.7 L626.1,235.3 L626.4,234.6 L626.7,236.1 L627.0,236.2 L627.3,237.5 L627.6,236.5 L627.9,237.9 L628.2,238.1 L628.5,239.4 L628.8,239.7 L629.1,239.3 L629.4,238.8 L629.7,239.1 L630.0,239.3 L630.3,239.9 L630.6,239.7 L630.9,239.7 L631.2,240.7 L631.5,240.5 L631.8,239.8 L632.1,241.1 L632.4,239.7 L632.7,240.3 L633.0,239.6 L633.3,240.9 L633.6,240.9 L633.9,239.8 L634.2,240.7 L634.5,240.8 L634.8,239.8 L635.1,239.9 L635.4,240.2 L635.7,240.9 L636.0,239.6 L636.3,240.6 L636.6,240.4 L636.9,240.2 L637.2,240.4 L637.5,240.9 L637.8,239.7 L638.1,240.9 L638.4,240.0 L638.7,240.8 L639.0,240.9 L639.3,239.7 L639.6,240.9 L639.9,241.1 L640.2,239.9 L640.5,239.4 L640.8,239.6 L641.1,241.1 L641.4,239.4 L641.7,241.0 L642.0,239.6 L642.3,240.7 L642.6,239.5 L642.9,239.7 L643.2,240.6 L643.5,239.5 L643.8,240.0 L644.1,241.0 L644.4,240.7 L644.7,241.0 L645.0,241.2 L645.3,239.4 L645.6,239.8 L645.9,240.8 L646.2,240.6 L646.5,239.5 L646.8,240.3 L647.1,239.8 L647.4,240.2 L647.7,239.6 L648.0,239.4 L648.3,241.2 L648.6,240.0 L648.9,241.0 L649.2,239.6 L649.5,240.3 L649.8,239.7 L650.1,240.2 L650.4,239.7 L650.7,240.7 L651.0,239.7 L651.3,240.8 L651.6,240.3 L651.9,239.6 L652.2,240.1 L652.5,240.3 L652.8,241.1 L653.1,240.1 L653.4,239.8 L653.7,241.2 L654.0,241.0 L654.3,240.8 L654.6,239.9 L654.9,239.8 L655.2,239.9 L655.5,239.6 L655.8,239.5 L656.1,240.4 L656.4,240.2 L656.4,246.1 L656.1,246.1 L655.8,246.1 L655.5,246.1 L655.2,246.1 L654.9,246.1 L654.6,246.1 L654.3,246.1 L654.0,246.1 L653.7,246.1 L653.4,246.1 L653.1,246.1 L652.8,246.1 L652.5,246.1 L652.2,246.1 L651.9,246.1 L651.6,246.1 L651.3,246.1 L651.0,246.1 L650.7,246.1 L650.4,246.1 L650.1,246.1 L649.8,246.1 L649.5,246.1 L649.2,246.1 L648.9,246.1 L648.6,246.1 L648.3,246.1 L648.0,246.1 L647.7,246.1 L647.4,246.1 L647.1,246.1 L646.8,246.1 L646.5,246.1 L646.2,246.1 L645.9,246.1 L645.6,246.1 L645.3,246.1 L645.0,246.1 L644.7,246.1 L644.4,246.1 L644.1,246.1 L643.8,246.1 L643.5,246.1 L643.2,246.1 L642.9,246.1 L642.6,246.1 L642.3,246.1 L642.0,246.1 L641.7,246.1 L641.4,246.1 L641.1,246.1 L640.8,246.1 L640.5,246.1 L640.2,246.1 L639.9,246.1 L639.6,246.1 L639.3,246.1 L639.0,246.1 L638.7,246.1 L638.4,246.1 L638.1,246.1 L637.8,246.1 L637.5,246.1 L637.2,246.1 L636.9,246.1 L636.6,246.1 L636.3,246.1 L636.0,246.1 L635.7,246.1 L635.4,246.1 L635.1,246.1 L634.8,246.1 L634.5,246.1 L634.2,246.1 L633.9,246.1 L633.6,246.1 L633.3,246.1 L633.0,246.1 L632.7,246.1 L632.4,246.1 L632.1,246.1 L631.8,246.1 L631.5,246.1 L631.2,246.1 L630.9,246.1 L630.6,246.1 L630.3,246.1 L630.0,246.1 L629.7,246.1 L629.4,246.1 L629.1,246.1 L628.8,246.1 L628.5,246.1 L628.2,246.1 L627.9,246.1 L627.6,246.1 L627.3,246.1 L627.0,246.1 L626.7,246.1 L626.4,245.8 L626.1,245.2 L625.8,244.4 L625.5,243.7 L625.2,242.9 L624.9,242.1 L624.6,241.3 L624.3,240.5 L624.0,239.7 L623.7,238.9 L623.4,238.1 L623.1,237.3 L622.8,236.5 L622.5,235.7 L622.2,234.9 L621.9,234.1 L621.6,233.3 L621.3,232.5 L621.0,231.7 L620.7,230.9 L620.4,230.1 L620.1,229.3 L619.8,228.5 L619.5,228.3 L619.2,229.1 L618.9,229.9 L618.6,230.7 L618.3,231.5 L618.0,232.3 L617.7,233.1 L617.4,233.9 L617.1,234.7 L616.8,235.5 L616.5,236.3 L616.2,237.1 L615.9,237.8 L615.6,238.6 L615.3,239.4 L615.0,240.2 L614.7,241.0 L614.4,241.8 L614.1,242.6 L613.8,243.4 L613.5,244.2 L613.2,245.0 L612.9,245.7 L612.6,246.1 L612.3,246.1 L612.0,246.1 L611.7,246.1 L611.4,246.1 L611.1,246.1 L610.8,246.1 L610.5,246.1 L610.2,246.1 L609.9,246.1 L609.6,246.1 L609.3,246.1 L609.0,246.1 L608.7,246.1 L608.4,246.1 L608.1,246.1 L607.8,246.1 L607.5,246.1 L607.2,246.1 L606.9,246.1 L606.6,246.1 L606.3,246.1 L606.0,246.1 L605.7,246.1 L605.4,246.1 L605.1,246.1 L604.8,246.1 L604.5,246.1 L604.2,246.1 L603.9,246.1 L603.6,246.1 L603.3,246.1 L603.0,246.1 L602.7,246.1 L602.4,246.1 L602.1,246.1 L601.8,246.1 L601.5,246.1 L601.2,246.1 L600.9,246.1 L600.6,246.1 L600.3,246.1 L600.0,246.1 L599.7,246.1 L599.4,246.1 L599.1,246.1 L598.8,246.1 L598.5,246.1 L598.2,246.1 L597.9,246.1 L597.6,246.1 L597.3,246.1 L597.0,246.1 L596.7,246.1 L596.4,246.1 L596.1,246.1 L595.8,246.1 L595.5,246.1 L595.2,246.1 L594.9,246.1 L594.6,246.1 L594.3,246.1 L594.0,246.1 L593.7,246.1 L593.4,246.1 L593.1,246.1 L592.8,246.1 L592.5,246.1 L592.2,246.1 L591.9,246.1 L591.6,246.1 L591.3,246.1 L591.0,246.1 L590.7,246.1 L590.4,246.1 L590.1,246.1 L589.8,246.1 L589.5,246.1 L589.2,246.1 L588.9,246.1 L588.6,246.1 L588.3,246.1 L588.0,246.1 L587.7,246.1 L587.4,246.1 L587.1,246.1 L586.8,246.1 L586.5,246.1 L586.2,246.1 L585.9,246.1 L585.6,246.1 L585.3,246.1 L585.0,246.1 L584.7,246.1 L584.4,246.1 L584.1,246.1 L583.8,246.1 L583.5,246.1 L583.2,246.1 L582.9,246.1 L582.6,246.1 L582.3,246.1 Z" fill="#0062a8"/>
<rect x="582.3" y="198.2" width="74.30000000000007" height="47.900000000000006" fill="none" stroke="#3d3535" stroke-width="0.9"/>
<line x1="579.8" y1="198.2" x2="582.3" y2="198.2" stroke="#3d3535" stroke-width="0.9"/>
<text x="577.0" y="200.89999999999998" font-size="7.5" text-anchor="end" fill="#231f20"  stroke="#231f20" stroke-width="0.15">−20</text>
<line x1="579.8" y1="214.2" x2="582.3" y2="214.2" stroke="#3d3535" stroke-width="0.9"/>
<text x="577.0" y="216.89999999999998" font-size="7.5" text-anchor="end" fill="#231f20"  stroke="#231f20" stroke-width="0.15">−60</text>
<line x1="579.8" y1="230.2" x2="582.3" y2="230.2" stroke="#3d3535" stroke-width="0.9"/>
<text x="577.0" y="232.89999999999998" font-size="7.5" text-anchor="end" fill="#231f20"  stroke="#231f20" stroke-width="0.15">−100</text>
<line x1="579.8" y1="246.2" x2="582.3" y2="246.2" stroke="#3d3535" stroke-width="0.9"/>
<text x="577.0" y="248.89999999999998" font-size="7.5" text-anchor="end" fill="#231f20"  stroke="#231f20" stroke-width="0.15">−140</text>
<line x1="582.3" y1="246.1" x2="582.3" y2="248.6" stroke="#3d3535" stroke-width="0.9"/>
<text x="582.3" y="258" font-size="7.5" text-anchor="middle" fill="#231f20"  stroke="#231f20" stroke-width="0.15">−50</text>
<line x1="619.8" y1="246.1" x2="619.8" y2="248.6" stroke="#3d3535" stroke-width="0.9"/>
<text x="619.8" y="258" font-size="7.5" text-anchor="middle" fill="#231f20"  stroke="#231f20" stroke-width="0.15">0</text>
<line x1="656.6" y1="246.1" x2="656.6" y2="248.6" stroke="#3d3535" stroke-width="0.9"/>
<text x="656.6" y="258" font-size="7.5" text-anchor="middle" fill="#231f20"  stroke="#231f20" stroke-width="0.15">50</text>
<text x="617.9" y="268" font-size="7.5" text-anchor="middle" fill="#231f20"  stroke="#231f20" stroke-width="0.15">Frequency (kHz + 24.954 GHz)</text>
<text transform="translate(555.2,223.3) rotate(-90)" font-size="7.5" text-anchor="middle" fill="#231f20" stroke="#231f20" stroke-width="0.15">Power (dBm)</text>
<text x="585.6" y="207.5" font-size="7.5" text-anchor="start" fill="#231f20"  stroke="#231f20" stroke-width="0.15">RBW</text>
<text x="585.6" y="216.6" font-size="7.5" text-anchor="start" fill="#231f20"  stroke="#231f20" stroke-width="0.15">10 Hz</text>
<line x1="43.8" y1="375.3" x2="334.2" y2="375.3" stroke="#888" stroke-width="1"/>
<line x1="43.8" y1="531.7" x2="334.2" y2="531.7" stroke="#888" stroke-width="1"/>
<line x1="43.8" y1="375.3" x2="43.8" y2="534.7" stroke="#3d3535" stroke-width="1"/>
<line x1="334.2" y1="375.3" x2="334.2" y2="534.7" stroke="#3d3535" stroke-width="1"/>
<line x1="39.3" y1="375.3" x2="43.8" y2="375.3" stroke="#3d3535" stroke-width="1"/>
<text x="35.0" y="378.3" font-size="8.4" text-anchor="end" fill="#231f20"  stroke="#231f20" stroke-width="0.15">20</text>
<line x1="39.3" y1="392.6777777777778" x2="43.8" y2="392.6777777777778" stroke="#3d3535" stroke-width="1"/>
<text x="35.0" y="395.6777777777778" font-size="8.4" text-anchor="end" fill="#231f20"  stroke="#231f20" stroke-width="0.15">0</text>
<line x1="39.3" y1="410.05555555555554" x2="43.8" y2="410.05555555555554" stroke="#3d3535" stroke-width="1"/>
<text x="35.0" y="413.05555555555554" font-size="8.4" text-anchor="end" fill="#231f20"  stroke="#231f20" stroke-width="0.15">−20</text>
<line x1="39.3" y1="427.43333333333334" x2="43.8" y2="427.43333333333334" stroke="#3d3535" stroke-width="1"/>
<text x="35.0" y="430.43333333333334" font-size="8.4" text-anchor="end" fill="#231f20"  stroke="#231f20" stroke-width="0.15">−40</text>
<line x1="39.3" y1="444.81111111111113" x2="43.8" y2="444.81111111111113" stroke="#3d3535" stroke-width="1"/>
<text x="35.0" y="447.81111111111113" font-size="8.4" text-anchor="end" fill="#231f20"  stroke="#231f20" stroke-width="0.15">−60</text>
<line x1="39.3" y1="462.1888888888889" x2="43.8" y2="462.1888888888889" stroke="#3d3535" stroke-width="1"/>
<text x="35.0" y="465.1888888888889" font-size="8.4" text-anchor="end" fill="#231f20"  stroke="#231f20" stroke-width="0.15">−80</text>
<line x1="39.3" y1="479.56666666666666" x2="43.8" y2="479.56666666666666" stroke="#3d3535" stroke-width="1"/>
<text x="35.0" y="482.56666666666666" font-size="8.4" text-anchor="end" fill="#231f20"  stroke="#231f20" stroke-width="0.15">−100</text>
<line x1="39.3" y1="496.94444444444446" x2="43.8" y2="496.94444444444446" stroke="#3d3535" stroke-width="1"/>
<text x="35.0" y="499.94444444444446" font-size="8.4" text-anchor="end" fill="#231f20"  stroke="#231f20" stroke-width="0.15">−120</text>
<line x1="39.3" y1="514.3222222222223" x2="43.8" y2="514.3222222222223" stroke="#3d3535" stroke-width="1"/>
<text x="35.0" y="517.3222222222223" font-size="8.4" text-anchor="end" fill="#231f20"  stroke="#231f20" stroke-width="0.15">−140</text>
<line x1="39.3" y1="531.7" x2="43.8" y2="531.7" stroke="#3d3535" stroke-width="1"/>
<text x="35.0" y="534.7" font-size="8.4" text-anchor="end" fill="#231f20"  stroke="#231f20" stroke-width="0.15">−160</text>
<line x1="65.65477768520503" y1="531.7" x2="65.65477768520503" y2="533.7" stroke="#3d3535" stroke-width="0.8"/>
<line x1="78.43900309264748" y1="531.7" x2="78.43900309264748" y2="533.7" stroke="#3d3535" stroke-width="0.8"/>
<line x1="87.50955537041006" y1="531.7" x2="87.50955537041006" y2="533.7" stroke="#3d3535" stroke-width="0.8"/>
<line x1="94.54522231479496" y1="531.7" x2="94.54522231479496" y2="533.7" stroke="#3d3535" stroke-width="0.8"/>
<line x1="100.29378077785252" y1="531.7" x2="100.29378077785252" y2="533.7" stroke="#3d3535" stroke-width="0.8"/>
<line x1="105.15411770503503" y1="531.7" x2="105.15411770503503" y2="533.7" stroke="#3d3535" stroke-width="0.8"/>
<line x1="109.36433305561509" y1="531.7" x2="109.36433305561509" y2="533.7" stroke="#3d3535" stroke-width="0.8"/>
<line x1="113.07800618529498" y1="531.7" x2="113.07800618529498" y2="533.7" stroke="#3d3535" stroke-width="0.8"/>
<line x1="138.25477768520503" y1="531.7" x2="138.25477768520503" y2="533.7" stroke="#3d3535" stroke-width="0.8"/>
<line x1="151.03900309264748" y1="531.7" x2="151.03900309264748" y2="533.7" stroke="#3d3535" stroke-width="0.8"/>
<line x1="160.10955537041008" y1="531.7" x2="160.10955537041008" y2="533.7" stroke="#3d3535" stroke-width="0.8"/>
<line x1="167.14522231479495" y1="531.7" x2="167.14522231479495" y2="533.7" stroke="#3d3535" stroke-width="0.8"/>
<line x1="172.8937807778525" y1="531.7" x2="172.8937807778525" y2="533.7" stroke="#3d3535" stroke-width="0.8"/>
<line x1="177.75411770503501" y1="531.7" x2="177.75411770503501" y2="533.7" stroke="#3d3535" stroke-width="0.8"/>
<line x1="181.9643330556151" y1="531.7" x2="181.9643330556151" y2="533.7" stroke="#3d3535" stroke-width="0.8"/>
<line x1="185.67800618529498" y1="531.7" x2="185.67800618529498" y2="533.7" stroke="#3d3535" stroke-width="0.8"/>
<line x1="210.85477768520502" y1="531.7" x2="210.85477768520502" y2="533.7" stroke="#3d3535" stroke-width="0.8"/>
<line x1="223.6390030926475" y1="531.7" x2="223.6390030926475" y2="533.7" stroke="#3d3535" stroke-width="0.8"/>
<line x1="232.70955537041004" y1="531.7" x2="232.70955537041004" y2="533.7" stroke="#3d3535" stroke-width="0.8"/>
<line x1="239.74522231479494" y1="531.7" x2="239.74522231479494" y2="533.7" stroke="#3d3535" stroke-width="0.8"/>
<line x1="245.49378077785252" y1="531.7" x2="245.49378077785252" y2="533.7" stroke="#3d3535" stroke-width="0.8"/>
<line x1="250.35411770503504" y1="531.7" x2="250.35411770503504" y2="533.7" stroke="#3d3535" stroke-width="0.8"/>
<line x1="254.56433305561512" y1="531.7" x2="254.56433305561512" y2="533.7" stroke="#3d3535" stroke-width="0.8"/>
<line x1="258.27800618529494" y1="531.7" x2="258.27800618529494" y2="533.7" stroke="#3d3535" stroke-width="0.8"/>
<line x1="283.45477768520504" y1="531.7" x2="283.45477768520504" y2="533.7" stroke="#3d3535" stroke-width="0.8"/>
<line x1="296.23900309264747" y1="531.7" x2="296.23900309264747" y2="533.7" stroke="#3d3535" stroke-width="0.8"/>
<line x1="305.30955537041007" y1="531.7" x2="305.30955537041007" y2="533.7" stroke="#3d3535" stroke-width="0.8"/>
<line x1="312.34522231479497" y1="531.7" x2="312.34522231479497" y2="533.7" stroke="#3d3535" stroke-width="0.8"/>
<line x1="318.09378077785254" y1="531.7" x2="318.09378077785254" y2="533.7" stroke="#3d3535" stroke-width="0.8"/>
<line x1="322.95411770503506" y1="531.7" x2="322.95411770503506" y2="533.7" stroke="#3d3535" stroke-width="0.8"/>
<line x1="327.1643330556151" y1="531.7" x2="327.1643330556151" y2="533.7" stroke="#3d3535" stroke-width="0.8"/>
<line x1="330.87800618529496" y1="531.7" x2="330.87800618529496" y2="533.7" stroke="#3d3535" stroke-width="0.8"/>
<line x1="43.8" y1="531.7" x2="43.8" y2="535.7" stroke="#3d3535" stroke-width="1"/>
<text x="43.8" y="549.1" font-size="8.8" text-anchor="middle" fill="#231f20" stroke="#231f20" stroke-width="0.15">10<tspan font-size="6.3" dy="-4.3">2</tspan></text>
<line x1="116.39999999999999" y1="531.7" x2="116.39999999999999" y2="535.7" stroke="#3d3535" stroke-width="1"/>
<text x="116.39999999999999" y="549.1" font-size="8.8" text-anchor="middle" fill="#231f20" stroke="#231f20" stroke-width="0.15">10<tspan font-size="6.3" dy="-4.3">3</tspan></text>
<line x1="189.0" y1="531.7" x2="189.0" y2="535.7" stroke="#3d3535" stroke-width="1"/>
<text x="189.0" y="549.1" font-size="8.8" text-anchor="middle" fill="#231f20" stroke="#231f20" stroke-width="0.15">10<tspan font-size="6.3" dy="-4.3">4</tspan></text>
<line x1="261.59999999999997" y1="531.7" x2="261.59999999999997" y2="535.7" stroke="#3d3535" stroke-width="1"/>
<text x="261.59999999999997" y="549.1" font-size="8.8" text-anchor="middle" fill="#231f20" stroke="#231f20" stroke-width="0.15">10<tspan font-size="6.3" dy="-4.3">5</tspan></text>
<line x1="334.2" y1="531.7" x2="334.2" y2="535.7" stroke="#3d3535" stroke-width="1"/>
<text x="334.2" y="549.1" font-size="8.8" text-anchor="middle" fill="#231f20" stroke="#231f20" stroke-width="0.15">10<tspan font-size="6.3" dy="-4.3">6</tspan></text>
<text x="187.1" y="563" font-size="9" text-anchor="middle" fill="#231f20"  stroke="#231f20" stroke-width="0.15">Frequency offset (Hz)</text>
<text transform="translate(8.4,452.3) rotate(-90)" font-size="9" text-anchor="middle" fill="#231f20" stroke="#231f20" stroke-width="0.15">Phase noise (dBc/Hz)</text>
<path d="M43.8,379.8 L75,389.9 L103.1,399.2 L107.7,397.6 L114.7,399.9 L124.1,406.2 L142.8,412.5 L152,413.5 L154.5,412.7 L159.1,407.4 L160.5,406.2 L161.5,407 L162.5,420 L165,421 L168,428 L170.5,435 L173,438 L176,440 L178,443 L181,444 L183,446 L185,445 L189.8,445.5 L197.7,447.9 L202.9,450.5 L206.4,456.6 L210.8,462.8 L216.1,464 L217.8,463.2 L220.4,466.3 L226.6,468 L230.1,466.8 L231.8,468.9 L237.1,474.2 L247.6,477.7 L265.1,482.9 L280,486.4 L334.2,500.3" fill="none" stroke="#4a4a4a" stroke-width="0.8"/>
<path d="M43.8,414.5 L44.6,418.4 L46.6,425.6 L48.5,427.6 L50.5,424.3 L51.8,423 L53.1,426.3 L55.8,428.9 L59.7,432.2 L63,434.8 L65.6,431.5 L68.2,431.5 L70.2,432.2 L72.2,426.9 L74.2,425.6 L76.1,428.2 L78.1,434.8 L80.7,438.8 L84.7,442.7 L88.6,445.3 L92.6,446.6 L96.5,444.7 L100.4,441.8 L102.4,444.7 L103.7,448 L106.4,443.4 L108.3,442.7 L111.6,446 L114.9,447.3 L116.9,450.6 L119.5,448.6 L121.5,449.3 L124.1,453.2 L126.7,455.2 L130,457.2 L140.4,460.7 L150.7,463.7 L158.8,461.7 L160.9,457.5 L161.9,464.7 L162.6,470.7 L168.8,472.4 L170.5,479.4 L177.5,484.7 L186.3,490.8 L190.7,489.5 L192.4,491.7 L203.8,497.8 L212.6,501.3 L230,505.7 L242.3,506.9 L245.8,505.2 L251.1,507.4 L265.1,508.3 L280,508.7 L334.2,509.2" fill="none" stroke="#2a62b4" stroke-width="1"/>
<path d="M43.80,419.71 L44.12,419.84 L44.43,420.24 L44.75,420.47 L45.06,420.83 L45.38,421.02 L45.69,421.18 L46.01,421.59 L46.32,421.70 L46.64,421.90 L46.95,422.12 L47.27,422.59 L47.58,422.77 L47.90,422.94 L48.21,423.03 L48.51,423.30 L48.82,423.24 L49.12,423.43 L49.43,423.60 L49.74,423.82 L50.04,423.88 L50.35,423.94 L50.65,424.18 L50.96,424.21 L51.26,424.27 L51.57,424.39 L51.88,424.56 L52.18,424.60 L52.49,424.78 L52.79,424.91 L53.10,425.10 L53.40,425.17 L53.70,425.23 L54.00,425.27 L54.30,425.48 L54.60,425.60 L54.90,425.65 L55.20,425.90 L55.50,425.98 L55.80,426.16 L56.10,426.07 L56.40,426.38 L56.70,426.33 L57.00,426.48 L57.30,426.62 L57.60,426.78 L57.90,426.79 L58.20,427.13 L58.50,427.12 L58.80,427.32 L59.10,427.28 L59.40,427.45 L59.70,427.54 L60.01,427.66 L60.33,427.67 L60.64,427.90 L60.96,427.90 L61.27,428.02 L61.59,428.11 L61.90,428.17 L62.21,428.45 L62.53,428.44 L62.84,428.58 L63.16,428.54 L63.47,428.71 L63.79,428.79 L64.10,428.97 L64.41,428.99 L64.73,429.14 L65.04,429.15 L65.36,429.37 L65.67,429.45 L65.99,429.40 L66.30,429.57 L66.61,429.69 L66.92,429.84 L67.23,429.89 L67.54,429.95 L67.85,430.03 L68.16,430.24 L68.47,430.23 L68.78,430.40 L69.09,430.47 L69.40,430.39 L69.70,430.61 L70.01,430.75 L70.32,430.71 L70.63,430.94 L70.94,430.86 L71.25,431.06 L71.56,431.18 L71.87,431.22 L72.18,431.36 L72.49,431.43 L72.80,431.58 L73.10,431.52 L73.40,431.72 L73.70,431.94 L74.00,431.88 L74.30,431.99 L74.60,432.17 L74.90,432.24 L75.20,432.33 L75.50,432.55 L75.80,432.53 L76.10,432.59 L76.40,432.78 L76.70,432.92 L77.00,433.00 L77.30,433.06 L77.60,433.26 L77.90,433.31 L78.20,433.44 L78.50,433.53 L78.80,433.75 L79.10,433.84 L79.40,433.92 L79.71,434.07 L80.02,434.13 L80.32,434.09 L80.63,434.07 L80.94,434.14 L81.25,434.24 L81.55,434.40 L81.86,434.45 L82.17,434.57 L82.48,434.52 L82.78,434.58 L83.09,434.66 L83.40,434.70 L83.73,435.12 L84.05,435.27 L84.38,435.55 L84.70,435.58 L85.03,435.93 L85.35,436.18 L85.67,436.25 L86.00,436.49 L86.33,436.67 L86.65,436.92 L86.97,437.10 L87.30,437.52 L87.61,437.41 L87.92,437.67 L88.24,437.76 L88.55,437.86 L88.86,437.97 L89.17,438.01 L89.48,438.13 L89.79,438.46 L90.11,438.47 L90.42,438.54 L90.73,438.69 L91.04,438.71 L91.35,439.02 L91.66,439.06 L91.98,439.08 L92.29,439.38 L92.60,439.33 L92.91,439.35 L93.22,439.64 L93.53,439.69 L93.84,439.54 L94.15,439.70 L94.46,439.83 L94.77,439.90 L95.08,439.79 L95.39,439.86 L95.70,440.09 L96.00,440.07 L96.31,440.15 L96.62,440.24 L96.93,440.29 L97.24,440.30 L97.55,440.31 L97.86,440.56 L98.17,440.60 L98.48,440.57 L98.79,440.54 L99.10,440.61 L99.41,440.75 L99.72,440.77 L100.04,440.83 L100.35,440.83 L100.66,440.88 L100.97,440.86 L101.28,441.08 L101.59,441.12 L101.91,441.18 L102.22,441.18 L102.53,441.20 L102.84,441.25 L103.15,441.18 L103.46,441.25 L103.78,441.27 L104.09,441.26 L104.40,441.34 L104.71,441.29 L105.01,440.95 L105.32,440.90 L105.63,440.60 L105.93,440.58 L106.24,440.32 L106.55,440.18 L106.85,439.90 L107.16,439.82 L107.47,439.57 L107.77,439.55 L108.08,439.24 L108.39,439.06 L108.69,438.91 L109.00,438.91 L109.31,439.00 L109.61,439.05 L109.92,439.28 L110.23,439.34 L110.53,439.46 L110.84,439.63 L111.15,439.74 L111.45,439.73 L111.76,439.98 L112.07,439.98 L112.37,440.30 L112.68,440.38 L112.99,440.52 L113.29,440.56 L113.60,440.77 L113.90,440.75 L114.20,440.91 L114.50,440.91 L114.80,441.17 L115.10,441.28 L115.40,441.23 L115.70,441.34 L116.00,441.60 L116.30,441.65 L116.60,441.77 L116.90,441.84 L117.20,441.98 L117.50,441.90 L117.81,442.23 L118.12,442.33 L118.42,442.53 L118.73,442.61 L119.04,442.68 L119.35,442.90 L119.65,443.07 L119.96,443.16 L120.27,443.47 L120.58,443.49 L120.88,443.64 L121.19,443.83 L121.50,444.07 L121.80,444.14 L122.10,444.28 L122.40,444.25 L122.70,444.37 L123.00,444.59 L123.30,444.69 L123.60,444.70 L123.90,444.80 L124.20,444.83 L124.50,444.92 L124.80,444.98 L125.10,445.31 L125.40,445.37 L125.71,445.57 L126.01,445.93 L126.32,446.22 L126.63,446.63 L126.93,446.87 L127.24,447.17 L127.55,447.56 L127.85,447.79 L128.16,448.03 L128.47,448.41 L128.77,448.67 L129.08,449.09 L129.39,449.37 L129.69,449.61 L130.00,450.28 L130.31,450.29 L130.61,449.30 L130.92,449.50 L131.22,450.68 L131.53,450.27 L131.84,449.50 L132.14,450.60 L132.45,449.95 L132.75,450.01 L133.06,450.25 L133.36,450.64 L133.67,450.73 L133.98,451.21 L134.28,450.85 L134.59,450.10 L134.89,451.14 L135.20,450.47 L135.51,450.77 L135.81,450.29 L136.12,450.35 L136.42,450.22 L136.73,450.76 L137.04,451.68 L137.34,450.74 L137.65,450.62 L137.95,451.03 L138.26,450.81 L138.56,451.05 L138.87,450.91 L139.18,451.92 L139.48,451.86 L139.79,451.82 L140.09,450.93 L140.40,451.46 L140.70,451.88 L141.01,451.42 L141.31,452.51 L141.61,451.70 L141.92,451.78 L142.22,451.59 L142.52,452.50 L142.83,453.19 L143.13,452.28 L143.43,452.86 L143.74,453.19 L144.04,453.51 L144.34,452.89 L144.65,454.01 L144.95,453.72 L145.25,453.41 L145.55,454.06 L145.86,453.66 L146.16,453.73 L146.46,454.64 L146.77,454.24 L147.07,454.94 L147.37,454.23 L147.68,454.47 L147.98,455.25 L148.28,454.97 L148.59,455.09 L148.89,455.63 L149.19,455.75 L149.50,455.63 L149.80,455.50 L150.10,456.09 L150.41,455.96 L150.71,456.04 L151.02,455.77 L151.32,455.63 L151.63,454.80 L151.93,455.93 L152.23,455.00 L152.54,454.81 L152.84,456.13 L153.15,455.19 L153.45,454.75 L153.76,453.68 L154.06,454.84 L154.37,454.71 L154.67,455.44 L154.97,454.66 L155.28,454.76 L155.58,455.53 L155.89,455.07 L156.19,454.89 L156.50,454.87 L156.80,455.76 L157.14,453.54 L157.48,452.47 L157.82,452.01 L158.16,451.26 L158.50,450.13 L158.87,447.68 L159.23,444.92 L159.60,443.74 L159.93,444.44 L160.25,445.23 L160.57,445.22 L160.90,445.93 L161.20,448.98 L161.50,451.10 L161.80,453.85 L162.14,455.30 L162.48,457.54 L162.82,458.83 L163.16,460.86 L163.50,462.84 L163.80,462.12 L164.10,461.15 L164.40,460.05 L164.70,458.70" fill="none" stroke="#c4122e" stroke-width="0.9" stroke-linejoin="bevel"/>
<path d="M275.60,511.68 L275.91,511.95 L276.23,511.98 L276.54,512.02 L276.86,512.00 L277.17,512.09 L277.49,512.10 L277.80,512.28 L278.11,512.43 L278.43,512.33 L278.74,512.33 L279.06,512.43 L279.37,512.54 L279.69,512.73 L280.00,512.77 L280.30,512.78 L280.60,512.78 L280.90,512.87 L281.20,512.96 L281.50,513.20 L281.80,513.21 L282.10,513.42 L282.40,513.49 L282.70,513.55 L283.00,513.56 L283.30,513.73 L283.60,513.65 L283.90,513.73 L284.20,513.93 L284.50,514.00 L284.80,514.01 L285.10,514.11 L285.40,514.14 L285.70,514.44 L286.00,514.48 L286.30,514.62 L286.60,514.72 L286.90,514.68 L287.20,514.83 L287.50,514.84 L287.80,515.02 L288.10,515.12 L288.40,515.04 L288.70,515.09 L289.00,515.23 L289.30,515.40 L289.60,515.44 L289.90,515.44 L290.20,515.72 L290.50,515.80 L290.80,515.81 L291.10,515.79 L291.40,516.08 L291.70,516.08 L292.00,516.06 L292.30,516.21 L292.60,516.36 L292.90,516.51 L293.20,516.50 L293.50,516.63 L293.80,516.61 L294.10,516.71 L294.40,516.95 L294.70,516.91 L295.00,516.93 L295.30,517.14 L295.60,517.11 L295.90,517.15 L296.20,517.24 L296.50,517.30 L296.80,517.33 L297.11,517.38 L297.41,517.34 L297.71,517.27 L298.01,517.46 L298.31,517.32 L298.61,517.45 L298.91,517.45 L299.21,517.54 L299.51,517.58 L299.82,517.49 L300.12,517.62 L300.42,517.65 L300.72,517.62 L301.02,517.57 L301.32,517.78 L301.62,517.73 L301.92,517.63 L302.22,517.69 L302.53,517.90 L302.83,517.74 L303.13,517.81 L303.43,517.93 L303.73,517.96 L304.03,517.94 L304.33,517.99 L304.63,517.85 L304.93,517.89 L305.24,518.12 L305.54,518.11 L305.84,517.95 L306.14,517.98 L306.44,518.05 L306.74,518.24 L307.04,518.09 L307.34,518.23 L307.64,518.31 L307.95,518.27 L308.25,518.36 L308.55,518.23 L308.85,518.23 L309.15,518.22 L309.45,518.42 L309.75,518.29 L310.05,518.53 L310.35,518.49 L310.65,518.39 L310.96,518.56 L311.26,518.43 L311.56,518.54 L311.86,518.47 L312.16,518.66 L312.46,518.71 L312.76,518.74 L313.06,518.55 L313.36,518.78 L313.67,518.73 L313.97,518.82 L314.27,518.77 L314.57,518.82 L314.87,518.84 L315.17,518.91 L315.47,518.77 L315.77,518.79 L316.07,518.93 L316.38,518.89 L316.68,518.94 L316.98,518.88 L317.28,519.08 L317.58,518.93 L317.88,519.15 L318.18,519.17 L318.48,519.11 L318.78,519.06 L319.09,519.21 L319.39,519.13 L319.69,519.20 L319.99,519.15 L320.29,519.39 L320.59,519.31 L320.89,519.29 L321.19,519.25 L321.49,519.43 L321.80,519.48 L322.10,519.51 L322.40,519.35 L322.70,519.44 L323.00,519.45 L323.30,519.50 L323.61,519.29 L323.91,519.34 L324.21,519.37 L324.51,519.25 L324.82,519.01 L325.12,518.96 L325.42,518.91 L325.72,518.99 L326.03,518.90 L326.33,518.82 L326.63,518.74 L326.94,518.67 L327.24,518.66 L327.54,518.60 L327.84,518.61 L328.15,518.50 L328.45,518.45 L328.75,518.42 L329.05,518.34 L329.36,518.25 L329.66,518.02 L329.96,518.11 L330.26,518.09 L330.57,517.93 L330.87,517.97 L331.17,517.74 L331.48,517.87 L331.78,517.68 L332.08,517.68 L332.38,517.51 L332.69,517.46 L332.99,517.41 L333.29,517.34 L333.59,517.23 L333.90,517.25 L334.20,517.20" fill="none" stroke="#c4122e" stroke-width="0.9"/>
<path d="M165.00,456.37 L165.33,457.36 L165.67,458.93 L166.00,458.90 L166.33,459.84 L166.67,461.51 L167.00,461.97 L167.32,462.71 L167.64,463.83 L167.95,465.20 L168.27,466.25 L168.59,466.99 L168.91,467.21 L169.23,469.10 L169.55,468.83 L169.86,470.26 L170.18,470.13 L170.50,472.31 L170.80,472.14 L171.11,472.80 L171.41,473.40 L171.72,473.68 L172.02,472.86 L172.33,472.92 L172.63,473.43 L172.93,473.20 L173.24,473.54 L173.54,473.61 L173.85,474.03 L174.15,475.10 L174.46,474.94 L174.76,475.34 L175.07,475.20 L175.37,474.91 L175.67,476.04 L175.98,476.22 L176.28,475.98 L176.59,476.13 L176.89,476.63 L177.20,475.86 L177.50,476.61 L177.80,475.64 L178.11,474.60 L178.41,476.85 L178.71,477.23 L179.02,475.26 L179.32,477.83 L179.62,478.09 L179.93,477.31 L180.23,478.27 L180.53,475.25 L180.84,477.87 L181.14,472.73 L181.44,478.46 L181.75,478.46 L182.05,478.11 L182.36,479.13 L182.66,479.66 L182.96,479.83 L183.27,479.24 L183.57,479.96 L183.87,479.58 L184.18,480.18 L184.48,479.38 L184.78,480.33 L185.09,478.15 L185.39,479.83 L185.69,480.05 L186.00,480.93 L186.30,480.22 L186.61,480.37 L186.92,481.35 L187.23,476.46 L187.54,481.10 L187.85,481.24 L188.16,481.02 L188.48,481.17 L188.79,481.39 L189.10,481.84 L189.41,482.57 L189.72,482.47 L190.03,481.92 L190.34,482.72 L190.65,483.23 L190.96,482.49 L191.27,482.47 L191.58,483.54 L191.89,482.88 L192.20,483.22 L192.51,481.13 L192.82,481.40 L193.14,484.41 L193.45,484.21 L193.76,480.71 L194.07,484.02 L194.38,484.95 L194.69,484.44 L195.00,484.45 L195.30,485.35 L195.61,481.26 L195.91,485.57 L196.21,485.62 L196.52,480.70 L196.82,485.33 L197.12,486.01 L197.43,486.19 L197.73,485.57 L198.03,486.21 L198.34,483.12 L198.64,485.71 L198.94,486.30 L199.25,486.39 L199.55,486.68 L199.86,487.01 L200.16,486.41 L200.46,486.31 L200.77,486.81 L201.07,483.28 L201.37,487.78 L201.68,487.87 L201.98,488.03 L202.28,486.08 L202.59,488.10 L202.89,485.67 L203.19,488.21 L203.50,488.05 L203.80,488.17 L204.10,488.63 L204.41,488.54 L204.71,487.80 L205.01,488.97 L205.32,488.75 L205.62,489.38 L205.92,488.26 L206.23,489.26 L206.53,489.22 L206.83,489.28 L207.14,489.60 L207.44,489.07 L207.74,489.27 L208.05,489.52 L208.35,489.23 L208.66,489.21 L208.96,490.47 L209.26,490.20 L209.57,490.46 L209.87,487.47 L210.17,490.86 L210.48,490.53 L210.78,490.33 L211.08,490.30 L211.39,491.22 L211.69,490.83 L211.99,491.30 L212.30,490.76 L212.60,491.21 L212.90,491.17 L213.20,491.64 L213.50,490.86 L213.80,491.17 L214.10,491.74 L214.40,491.60 L214.70,491.03 L215.00,491.22 L215.30,492.02 L215.60,491.40 L215.90,491.43 L216.20,491.68 L216.50,492.44 L216.80,491.04 L217.10,492.65 L217.40,492.26 L217.70,492.18 L218.00,492.84 L218.30,491.71 L218.60,493.17 L218.90,493.00 L219.20,493.31 L219.50,493.38 L219.80,493.26 L220.10,493.18 L220.40,493.23 L220.70,491.01 L221.00,493.55 L221.30,493.59 L221.61,494.19 L221.92,493.47 L222.23,494.00 L222.54,493.25 L222.85,493.55 L223.16,493.45 L223.48,494.62 L223.79,494.25 L224.10,494.51 L224.41,494.44 L224.72,494.14 L225.03,494.79 L225.34,494.92 L225.65,495.42 L225.96,495.36 L226.27,494.69 L226.58,495.02 L226.89,495.27 L227.20,492.27 L227.51,493.81 L227.82,495.31 L228.14,495.43 L228.45,495.05 L228.76,496.11 L229.07,496.28 L229.38,493.42 L229.69,495.68 L230.00,496.02 L230.30,495.76 L230.61,496.72 L230.91,496.01 L231.21,496.57 L231.52,496.65 L231.82,496.46 L232.12,496.16 L232.43,496.12 L232.73,497.14 L233.03,496.92 L233.34,496.43 L233.64,496.97 L233.94,493.67 L234.25,497.71 L234.55,497.60 L234.86,497.37 L235.16,497.73 L235.46,496.87 L235.77,497.26 L236.07,497.08 L236.37,498.20 L236.68,497.77 L236.98,498.06 L237.28,498.51 L237.59,498.09 L237.89,497.56 L238.19,498.69 L238.50,498.71 L238.80,498.67 L239.12,497.89 L239.44,497.67 L239.75,496.86 L240.07,496.93 L240.39,495.71 L240.71,496.06 L241.03,495.63 L241.35,494.96 L241.66,495.16 L241.98,494.56 L242.30,493.24 L242.66,493.32 L243.02,492.81 L243.38,491.30 L243.74,491.17 L244.10,488.32 L244.42,490.86 L244.74,490.11 L245.05,489.67 L245.37,489.27 L245.69,489.83 L246.01,492.42 L246.33,492.19 L246.65,489.22 L246.96,492.51 L247.28,492.93 L247.60,493.29 L247.92,494.02 L248.24,495.19 L248.55,494.97 L248.87,495.92 L249.19,496.73 L249.51,496.85 L249.83,498.05 L250.15,498.32 L250.46,498.63 L250.78,500.36 L251.10,500.55 L251.41,500.95 L251.72,500.26 L252.04,502.05 L252.35,502.08 L252.66,502.02 L252.97,501.96 L253.28,498.70 L253.59,502.45 L253.91,501.84 L254.22,503.02 L254.53,501.01 L254.84,503.52 L255.15,502.95 L255.46,502.77 L255.78,503.53 L256.09,503.58 L256.40,503.46 L256.71,503.62 L257.02,503.70 L257.33,501.92 L257.64,504.54 L257.96,504.31 L258.27,503.73 L258.58,503.91 L258.89,504.15 L259.20,504.38 L259.51,504.45 L259.82,504.52 L260.13,504.99 L260.44,504.38 L260.76,504.15 L261.07,504.89 L261.38,504.53 L261.69,505.14 L262.00,505.33 L262.31,504.97 L262.62,505.62 L262.93,504.87 L263.24,505.10 L263.55,504.29 L263.86,504.47 L264.17,503.82 L264.48,503.53 L264.79,503.45 L265.10,503.34 L265.42,504.24 L265.74,504.44 L266.05,502.88 L266.37,504.53 L266.69,504.84 L267.01,504.68 L267.33,503.99 L267.65,505.66 L267.96,506.00 L268.28,505.49 L268.60,506.24 L268.92,506.08 L269.24,504.16 L269.55,506.40 L269.87,506.51 L270.19,507.11 L270.51,506.49 L270.83,507.39 L271.15,507.42 L271.46,507.59 L271.78,507.22 L272.10,507.77 L272.42,508.23 L272.74,508.49 L273.05,508.58 L273.37,509.13 L273.69,509.02 L274.01,508.67 L274.33,508.71 L274.65,509.56 L274.96,509.48 L275.28,509.79 L275.28,513.10 L274.96,513.03 L274.65,512.35 L274.33,512.64 L274.01,513.66 L273.69,512.34 L273.37,512.00 L273.05,511.49 L272.74,511.76 L272.42,511.37 L272.10,510.58 L271.78,510.70 L271.46,511.09 L271.15,510.26 L270.83,510.24 L270.51,509.91 L270.19,509.77 L269.87,509.81 L269.55,509.96 L269.24,509.50 L268.92,509.91 L268.60,509.04 L268.28,509.63 L267.96,509.45 L267.65,508.53 L267.33,508.74 L267.01,508.45 L266.69,507.84 L266.37,509.54 L266.05,507.94 L265.74,508.67 L265.42,507.63 L265.10,506.69 L264.79,506.98 L264.48,506.96 L264.17,507.37 L263.86,508.00 L263.55,507.62 L263.24,507.51 L262.93,508.52 L262.62,507.73 L262.31,508.54 L262.00,509.18 L261.69,509.09 L261.38,508.73 L261.07,509.04 L260.76,508.53 L260.44,508.61 L260.13,508.31 L259.82,508.39 L259.51,508.13 L259.20,508.19 L258.89,508.35 L258.58,508.32 L258.27,507.98 L257.96,509.01 L257.64,508.26 L257.33,508.35 L257.02,508.40 L256.71,508.06 L256.40,509.41 L256.09,507.17 L255.78,507.64 L255.46,507.26 L255.15,507.43 L254.84,506.94 L254.53,507.27 L254.22,506.79 L253.91,506.20 L253.59,505.85 L253.28,505.60 L252.97,506.09 L252.66,506.00 L252.35,505.14 L252.04,505.76 L251.72,505.67 L251.41,505.38 L251.10,505.41 L250.78,504.35 L250.46,503.81 L250.15,503.44 L249.83,503.12 L249.51,501.81 L249.19,501.84 L248.87,501.89 L248.55,500.31 L248.24,499.32 L247.92,499.44 L247.60,498.06 L247.28,498.58 L246.96,497.43 L246.65,497.95 L246.33,497.63 L246.01,496.62 L245.69,496.22 L245.37,496.64 L245.05,496.40 L244.74,495.80 L244.42,495.48 L244.10,494.71 L243.74,495.60 L243.38,496.58 L243.02,497.71 L242.66,498.89 L242.30,498.92 L241.98,499.50 L241.66,500.42 L241.35,499.92 L241.03,500.44 L240.71,500.53 L240.39,501.39 L240.07,501.85 L239.75,501.53 L239.44,501.61 L239.12,502.25 L238.80,502.02 L238.50,502.20 L238.19,502.15 L237.89,501.71 L237.59,502.23 L237.28,503.90 L236.98,503.77 L236.68,501.40 L236.37,501.25 L236.07,501.24 L235.77,501.90 L235.46,501.54 L235.16,501.81 L234.86,501.03 L234.55,501.39 L234.25,501.10 L233.94,500.69 L233.64,501.10 L233.34,500.58 L233.03,501.28 L232.73,500.44 L232.43,500.53 L232.12,500.92 L231.82,500.43 L231.52,500.93 L231.21,500.47 L230.91,499.83 L230.61,502.61 L230.30,500.24 L230.00,500.00 L229.69,499.96 L229.38,501.64 L229.07,499.46 L228.76,500.21 L228.45,499.51 L228.14,499.99 L227.82,499.09 L227.51,500.96 L227.20,499.49 L226.89,499.38 L226.58,498.63 L226.27,499.35 L225.96,498.40 L225.65,498.31 L225.34,498.31 L225.03,498.60 L224.72,498.33 L224.41,498.25 L224.10,498.70 L223.79,498.03 L223.48,499.72 L223.16,497.88 L222.85,498.06 L222.54,497.65 L222.23,497.85 L221.92,497.49 L221.61,497.72 L221.30,497.76 L221.00,497.17 L220.70,497.69 L220.40,497.23 L220.10,497.04 L219.80,496.65 L219.50,496.46 L219.20,496.90 L218.90,496.43 L218.60,496.73 L218.30,496.80 L218.00,499.24 L217.70,496.52 L217.40,495.92 L217.10,496.14 L216.80,496.25 L216.50,495.95 L216.20,495.95 L215.90,495.40 L215.60,496.11 L215.30,496.93 L215.00,495.73 L214.70,495.67 L214.40,494.93 L214.10,494.88 L213.80,494.80 L213.50,494.94 L213.20,495.22 L212.90,495.11 L212.60,494.66 L212.30,496.83 L211.99,494.36 L211.69,494.76 L211.39,494.59 L211.08,494.51 L210.78,493.99 L210.48,494.36 L210.17,493.49 L209.87,493.40 L209.57,493.30 L209.26,493.72 L208.96,493.37 L208.66,493.38 L208.35,493.46 L208.05,493.29 L207.74,493.19 L207.44,493.04 L207.14,492.92 L206.83,492.88 L206.53,492.11 L206.23,492.14 L205.92,492.49 L205.62,492.13 L205.32,492.27 L205.01,491.63 L204.71,492.03 L204.41,491.31 L204.10,491.05 L203.80,491.56 L203.50,491.30 L203.19,491.46 L202.89,491.41 L202.59,491.08 L202.28,490.72 L201.98,490.82 L201.68,490.02 L201.37,490.57 L201.07,490.29 L200.77,489.58 L200.46,489.52 L200.16,489.74 L199.86,489.64 L199.55,489.29 L199.25,489.01 L198.94,489.14 L198.64,488.85 L198.34,488.67 L198.03,488.45 L197.73,489.06 L197.43,488.91 L197.12,488.67 L196.82,488.50 L196.52,487.98 L196.21,488.05 L195.91,487.61 L195.61,487.94 L195.30,488.05 L195.00,487.21 L194.69,487.67 L194.38,488.42 L194.07,486.98 L193.76,487.17 L193.45,487.51 L193.14,486.67 L192.82,486.93 L192.51,486.10 L192.20,486.83 L191.89,487.42 L191.58,485.95 L191.27,485.95 L190.96,485.66 L190.65,485.83 L190.34,487.14 L190.03,484.90 L189.72,484.46 L189.41,484.26 L189.10,484.19 L188.79,484.64 L188.48,484.15 L188.16,483.81 L187.85,484.07 L187.54,483.27 L187.23,483.72 L186.92,483.30 L186.61,482.96 L186.30,482.81 L186.00,483.04 L185.69,482.82 L185.39,482.68 L185.09,482.28 L184.78,484.60 L184.48,482.54 L184.18,481.98 L183.87,483.46 L183.57,481.36 L183.27,481.20 L182.96,481.16 L182.66,480.91 L182.36,480.94 L182.05,480.66 L181.75,481.12 L181.44,480.62 L181.14,480.21 L180.84,480.76 L180.53,479.80 L180.23,480.41 L179.93,480.25 L179.62,480.14 L179.32,479.65 L179.02,479.63 L178.71,478.74 L178.41,478.69 L178.11,478.74 L177.80,479.19 L177.50,478.28 L177.20,478.02 L176.89,478.27 L176.59,478.07 L176.28,477.38 L175.98,477.29 L175.67,477.63 L175.37,476.75 L175.07,476.57 L174.76,476.69 L174.46,476.36 L174.15,476.74 L173.85,476.12 L173.54,476.29 L173.24,476.22 L172.93,475.83 L172.63,475.13 L172.33,475.46 L172.02,476.01 L171.72,474.64 L171.41,474.57 L171.11,474.48 L170.80,473.94 L170.50,474.34 L170.18,472.84 L169.86,472.04 L169.55,471.38 L169.23,470.04 L168.91,469.13 L168.59,468.61 L168.27,467.68 L167.95,466.30 L167.64,465.75 L167.32,464.64 L167.00,464.12 L166.67,462.66 L166.33,462.34 L166.00,461.08 L165.67,459.97 L165.33,459.90 L165.00,459.28 Z" fill="#c4122e" stroke="#c4122e" stroke-width="0.3"/>
<path d="M149.6,406.7 L149.6,458.3 M148.6,457.6 L159.9,457.6" fill="none" stroke="#2a62b4" stroke-width="0.8" stroke-dasharray="1,1"/>
<path d="M149.3,406.7 L161,406.7" fill="none" stroke="#2a4a94" stroke-width="0.8" stroke-dasharray="1,1"/>
<path d="M160.9,407.5 L160.9,441.7 M155.5,441.7 L164,441.7" fill="none" stroke="#cc1f36" stroke-width="0.8" stroke-dasharray="1,1"/>
<text transform="translate(147.5,431.1) rotate(-90)" font-size="8.3" text-anchor="middle" fill="#231f20" stroke="#231f20" stroke-width="0.15"><tspan fill="#2a62b4" stroke="#2a62b4" stroke-width="0.15">59</tspan> dB</text>
<text transform="translate(159.0,425.0) rotate(-90)" font-size="8.0" text-anchor="middle" fill="#231f20" stroke="#231f20" stroke-width="0.15"><tspan fill="#cc1f36" stroke="#cc1f36" stroke-width="0.15">41</tspan> dB</text>
<text x="115.5" y="432.6" font-size="7.4" text-anchor="middle" fill="#231f20"  stroke="#231f20" stroke-width="0.15">Transduction</text>
<rect x="168" y="447.4" width="42" height="19.4" fill="#ebebeb"/>
<text x="189" y="454.9" font-size="7.4" text-anchor="middle" fill="#231f20" stroke="#231f20" stroke-width="0.15"><tspan fill="#cc1f36" stroke="#cc1f36" stroke-width="0.15">-102</tspan> dBc/Hz</text>
<text x="189" y="463.7" font-size="7.4" text-anchor="middle" fill="#231f20"  stroke="#231f20" stroke-width="0.15">@10 kHz</text>
<rect x="131.2" y="484.2" width="43" height="19.4" fill="#ebebeb"/>
<text x="152.7" y="491.3" font-size="7.4" text-anchor="middle" fill="#231f20" stroke="#231f20" stroke-width="0.15"><tspan fill="#2a62b4" stroke="#2a62b4" stroke-width="0.15">-113</tspan> dBc/Hz</text>
<text x="152.7" y="500.1" font-size="7.4" text-anchor="middle" fill="#231f20"  stroke="#231f20" stroke-width="0.15">@10 kHz</text>
<path d="M189.5,467.8 L189.5,475" stroke="#111" stroke-width="0.9"/><path d="M189.5,478 l-1.8,-3.6 h3.6 z" fill="#111"/>
<path d="M176.2,493 L184.5,493" stroke="#111" stroke-width="0.9"/><path d="M187.4,493 l-3.6,-1.8 v3.6 z" fill="#111"/>
<line x1="269.7" y1="382.5" x2="286.8" y2="382.5" stroke="#4a4a4a" stroke-width="0.8"/>
<line x1="269.7" y1="394.6" x2="286.8" y2="394.6" stroke="#cc1f36" stroke-width="1"/>
<line x1="269.7" y1="407.2" x2="286.8" y2="407.2" stroke="#2a62b4" stroke-width="1"/>
<text x="291.8" y="385.2" font-size="7.5" text-anchor="start" fill="#231f20"  stroke="#231f20" stroke-width="0.15">Pump laser</text>
<text x="291.8" y="397.3" font-size="7.5" fill="#231f20" stroke="#231f20" stroke-width="0.15"><tspan font-style="italic">f</tspan><tspan font-size="4.65" dy="1.6">r</tspan><tspan dy="-1.6"> = 100 GHz</tspan></text>
<text x="291.8" y="409.9" font-size="7.5" fill="#231f20" stroke="#231f20" stroke-width="0.15"><tspan font-style="italic">f</tspan><tspan font-size="4.65" dy="1.6">r</tspan><tspan dy="-1.6"> = 25 GHz</tspan></text>
<rect x="385.3" y="375.0" width="59.89999999999998" height="157.10000000000002" fill="#f2d5cc"/>
<rect x="445.2" y="375.0" width="125.40000000000003" height="157.10000000000002" fill="#c9ddcf"/>
<rect x="570.6" y="375.0" width="103.0" height="157.10000000000002" fill="#d3d3e8"/>
<clipPath id="fclip"><rect x="385.3" y="375.0" width="288.3" height="157.10000000000002"/></clipPath>
<g clip-path="url(#fclip)">
<line x1="347.6" y1="354.4" x2="723.8" y2="764.2" stroke="#4a4a4a" stroke-width="0.8" stroke-dasharray="1.9,1.3"/>
<line x1="347.6" y1="286.1" x2="723.8" y2="695.9" stroke="#4a4a4a" stroke-width="0.8" stroke-dasharray="1.9,1.3"/>
<line x1="347.6" y1="217.8" x2="723.8" y2="627.6" stroke="#4a4a4a" stroke-width="0.8" stroke-dasharray="1.9,1.3"/>
<line x1="347.6" y1="149.5" x2="723.8" y2="559.3" stroke="#4a4a4a" stroke-width="0.8" stroke-dasharray="1.9,1.3"/>
<line x1="347.6" y1="81.2" x2="723.8" y2="491.0" stroke="#4a4a4a" stroke-width="0.8" stroke-dasharray="1.9,1.3"/>
</g>
<line x1="385.3" y1="375.0" x2="673.6" y2="375.0" stroke="#3d3535" stroke-width="1"/>
<line x1="385.3" y1="532.1" x2="673.6" y2="532.1" stroke="#3d3535" stroke-width="1"/>
<line x1="385.3" y1="375.0" x2="385.3" y2="532.1" stroke="#3d3535" stroke-width="1"/>
<line x1="673.6" y1="375.0" x2="673.6" y2="532.1" stroke="#3d3535" stroke-width="1"/>
<line x1="380.8" y1="532.1" x2="385.3" y2="532.1" stroke="#3d3535" stroke-width="0.9"/>
<line x1="382.8" y1="511.5" x2="385.3" y2="511.5" stroke="#3d3535" stroke-width="0.9"/>
<line x1="382.8" y1="499.5" x2="385.3" y2="499.5" stroke="#3d3535" stroke-width="0.9"/>
<line x1="382.8" y1="491.0" x2="385.3" y2="491.0" stroke="#3d3535" stroke-width="0.9"/>
<line x1="382.8" y1="484.4" x2="385.3" y2="484.4" stroke="#3d3535" stroke-width="0.9"/>
<line x1="382.8" y1="479.0" x2="385.3" y2="479.0" stroke="#3d3535" stroke-width="0.9"/>
<line x1="382.8" y1="474.4" x2="385.3" y2="474.4" stroke="#3d3535" stroke-width="0.9"/>
<line x1="382.8" y1="470.4" x2="385.3" y2="470.4" stroke="#3d3535" stroke-width="0.9"/>
<line x1="382.8" y1="466.9" x2="385.3" y2="466.9" stroke="#3d3535" stroke-width="0.9"/>
<line x1="380.8" y1="463.8" x2="385.3" y2="463.8" stroke="#3d3535" stroke-width="0.9"/>
<line x1="382.8" y1="443.2" x2="385.3" y2="443.2" stroke="#3d3535" stroke-width="0.9"/>
<line x1="382.8" y1="431.2" x2="385.3" y2="431.2" stroke="#3d3535" stroke-width="0.9"/>
<line x1="382.8" y1="422.7" x2="385.3" y2="422.7" stroke="#3d3535" stroke-width="0.9"/>
<line x1="382.8" y1="416.1" x2="385.3" y2="416.1" stroke="#3d3535" stroke-width="0.9"/>
<line x1="382.8" y1="410.7" x2="385.3" y2="410.7" stroke="#3d3535" stroke-width="0.9"/>
<line x1="382.8" y1="406.1" x2="385.3" y2="406.1" stroke="#3d3535" stroke-width="0.9"/>
<line x1="382.8" y1="402.1" x2="385.3" y2="402.1" stroke="#3d3535" stroke-width="0.9"/>
<line x1="382.8" y1="398.6" x2="385.3" y2="398.6" stroke="#3d3535" stroke-width="0.9"/>
<line x1="380.8" y1="395.5" x2="385.3" y2="395.5" stroke="#3d3535" stroke-width="0.9"/>
<text x="377.1" y="537.6" font-size="9" text-anchor="end" fill="#231f20" stroke="#231f20" stroke-width="0.15">10<tspan font-size="6.3" dy="-4.3">1</tspan></text>
<text x="377.1" y="469.3" font-size="9" text-anchor="end" fill="#231f20" stroke="#231f20" stroke-width="0.15">10<tspan font-size="6.3" dy="-4.3">2</tspan></text>
<text x="377.1" y="401.0" font-size="9" text-anchor="end" fill="#231f20" stroke="#231f20" stroke-width="0.15">10<tspan font-size="6.3" dy="-4.3">3</tspan></text>
<line x1="385.3" y1="532.1" x2="385.3" y2="536.6" stroke="#3d3535" stroke-width="0.9"/>
<line x1="423.0" y1="532.1" x2="423.0" y2="534.6" stroke="#3d3535" stroke-width="0.9"/>
<line x1="445.1" y1="532.1" x2="445.1" y2="534.6" stroke="#3d3535" stroke-width="0.9"/>
<line x1="460.8" y1="532.1" x2="460.8" y2="534.6" stroke="#3d3535" stroke-width="0.9"/>
<line x1="473.0" y1="532.1" x2="473.0" y2="534.6" stroke="#3d3535" stroke-width="0.9"/>
<line x1="482.9" y1="532.1" x2="482.9" y2="534.6" stroke="#3d3535" stroke-width="0.9"/>
<line x1="491.3" y1="532.1" x2="491.3" y2="534.6" stroke="#3d3535" stroke-width="0.9"/>
<line x1="498.5" y1="532.1" x2="498.5" y2="534.6" stroke="#3d3535" stroke-width="0.9"/>
<line x1="505.0" y1="532.1" x2="505.0" y2="534.6" stroke="#3d3535" stroke-width="0.9"/>
<text x="385.6" y="549" font-size="9" text-anchor="middle" fill="#231f20" stroke="#231f20" stroke-width="0.15">10<tspan font-size="6.3" dy="-4.3">1</tspan></text>
<line x1="510.7" y1="532.1" x2="510.7" y2="536.6" stroke="#3d3535" stroke-width="0.9"/>
<line x1="548.4" y1="532.1" x2="548.4" y2="534.6" stroke="#3d3535" stroke-width="0.9"/>
<line x1="570.5" y1="532.1" x2="570.5" y2="534.6" stroke="#3d3535" stroke-width="0.9"/>
<line x1="586.2" y1="532.1" x2="586.2" y2="534.6" stroke="#3d3535" stroke-width="0.9"/>
<line x1="598.4" y1="532.1" x2="598.4" y2="534.6" stroke="#3d3535" stroke-width="0.9"/>
<line x1="608.3" y1="532.1" x2="608.3" y2="534.6" stroke="#3d3535" stroke-width="0.9"/>
<line x1="616.7" y1="532.1" x2="616.7" y2="534.6" stroke="#3d3535" stroke-width="0.9"/>
<line x1="623.9" y1="532.1" x2="623.9" y2="534.6" stroke="#3d3535" stroke-width="0.9"/>
<line x1="630.4" y1="532.1" x2="630.4" y2="534.6" stroke="#3d3535" stroke-width="0.9"/>
<text x="511.00000000000006" y="549" font-size="9" text-anchor="middle" fill="#231f20" stroke="#231f20" stroke-width="0.15">10<tspan font-size="6.3" dy="-4.3">2</tspan></text>
<line x1="636.1" y1="532.1" x2="636.1" y2="536.6" stroke="#3d3535" stroke-width="0.9"/>
<text x="636.4" y="549" font-size="9" text-anchor="middle" fill="#231f20" stroke="#231f20" stroke-width="0.15">10<tspan font-size="6.3" dy="-4.3">3</tspan></text>
<text x="398.2" y="371.7" font-size="9" text-anchor="start" fill="#231f20"  stroke="#231f20" stroke-width="0.15">Microwave</text>
<text x="480" y="371.6" font-size="9" text-anchor="start" fill="#231f20"  stroke="#231f20" stroke-width="0.15">Millimeter wave</text>
<text x="593.4" y="371.6" font-size="9" text-anchor="start" fill="#231f20"  stroke="#231f20" stroke-width="0.15">Terahertz wave</text>
<text x="529.3" y="562.5" font-size="9" text-anchor="middle" fill="#231f20" stroke="#231f20" stroke-width="0.15">Repetition rate <tspan font-style="italic">f</tspan><tspan font-size="5.6" dy="1.8">r</tspan><tspan dy="-1.8"> (GHz)</tspan></text>
<text transform="translate(355.3,462.7) rotate(-90)" font-size="9" text-anchor="middle" fill="#231f20" stroke="#231f20" stroke-width="0.15">On-chip pump power <tspan font-style="italic">P</tspan><tspan font-size="5.6" dy="1.8">in</tspan><tspan dy="-1.8"> (mW)</tspan></text>
<linearGradient id="garr" x1="0" y1="0" x2="1" y2="0"><stop offset="0" stop-color="#1a3a8c"/><stop offset="0.55" stop-color="#5a78bb"/><stop offset="1" stop-color="#ffffff"/></linearGradient>
<path d="M437.2,380.7 L444.2,376.3 L444.2,378.3 L494.5,378.3 L494.5,383.1 L444.2,383.1 L444.2,385.2 Z" fill="url(#garr)"/>
<text x="467.7" y="391.9" font-size="7.35" text-anchor="middle" fill="#231f20"  stroke="#231f20" stroke-width="0.15">Electronically detectable</text>
<linearGradient id="garr2" x1="0" y1="0" x2="0" y2="1"><stop offset="0" stop-color="#ffffff"/><stop offset="0.45" stop-color="#7a94c8"/><stop offset="1" stop-color="#1a4a9c"/></linearGradient>
<path d="M390.2,421.6 L395,421.6 L395,466.7 L397.3,466.7 L392.6,472 L387.9,466.7 L390.2,466.7 Z" fill="url(#garr2)"/>
<text transform="translate(402.3,444.6) rotate(-90)" font-size="7.6" font-style="italic" text-anchor="middle" fill="#231f20" stroke="#231f20" stroke-width="0.15">Lower pump</text>
<text transform="translate(396.3,396) rotate(47.4)" font-size="7.4" font-style="italic" fill="#555" stroke="#555" stroke-width="0.15">P<tspan font-size="4.3" dy="1.4">in</tspan><tspan dy="-1.4"> × f</tspan><tspan font-size="4.3" dy="1.4">r</tspan><tspan font-size="4.3" dy="-4">2</tspan></text>
<text transform="translate(483.5,497.5) rotate(48)" font-size="7.2" fill="#444" stroke="#444" stroke-width="0.15">10<tspan font-size="4.3" dy="-2.8">5</tspan><tspan dy="2.8"> mW·GHz</tspan><tspan font-size="4.3" dy="-2.8">2</tspan></text>
<text transform="translate(569.2,523.3) rotate(48)" font-size="7.2" fill="#444" stroke="#444" stroke-width="0.15">10<tspan font-size="4.3" dy="-2.8">6</tspan></text>
<text transform="translate(630,522.8) rotate(48)" font-size="7.2" fill="#444" stroke="#444" stroke-width="0.15">10<tspan font-size="4.3" dy="-2.8">7</tspan></text>
<text transform="translate(659,487.5) rotate(48)" font-size="7.2" fill="#444" stroke="#444" stroke-width="0.15">10<tspan font-size="4.3" dy="-2.8">8</tspan></text>
<text transform="translate(659,419.5) rotate(48)" font-size="7.2" fill="#444" stroke="#444" stroke-width="0.15">10<tspan font-size="4.3" dy="-2.8">9</tspan></text>
<circle cx="553.4" cy="395.5" r="3.3" fill="#5b6bb0" fill-opacity="0.85" stroke="#2e4796" stroke-width="0.9"/>
<circle cx="548.3" cy="410.7" r="3.3" fill="#5b6bb0" fill-opacity="0.85" stroke="#2e4796" stroke-width="0.9"/>
<circle cx="584.7" cy="410.7" r="3.3" fill="#5b6bb0" fill-opacity="0.85" stroke="#2e4796" stroke-width="0.9"/>
<circle cx="576.1" cy="427.6" r="3.3" fill="#5b6bb0" fill-opacity="0.85" stroke="#2e4796" stroke-width="0.9"/>
<circle cx="582.3" cy="427.9" r="3.3" fill="#5b6bb0" fill-opacity="0.85" stroke="#2e4796" stroke-width="0.9"/>
<circle cx="590.4" cy="423.4" r="3.3" fill="#5b6bb0" fill-opacity="0.85" stroke="#2e4796" stroke-width="0.9"/>
<circle cx="597.1" cy="424.4" r="3.3" fill="#5b6bb0" fill-opacity="0.85" stroke="#2e4796" stroke-width="0.9"/>
<circle cx="613.1" cy="425.6" r="3.3" fill="#5b6bb0" fill-opacity="0.85" stroke="#2e4796" stroke-width="0.9"/>
<circle cx="614" cy="449.2" r="3.3" fill="#5b6bb0" fill-opacity="0.85" stroke="#2e4796" stroke-width="0.9"/>
<circle cx="635.9" cy="418.9" r="3.3" fill="#5b6bb0" fill-opacity="0.85" stroke="#2e4796" stroke-width="0.9"/>
<circle cx="636" cy="431.5" r="3.3" fill="#5b6bb0" fill-opacity="0.85" stroke="#2e4796" stroke-width="0.9"/>
<circle cx="636" cy="443.1" r="3.3" fill="#5b6bb0" fill-opacity="0.85" stroke="#2e4796" stroke-width="0.9"/>
<circle cx="636" cy="451.2" r="3.3" fill="#5b6bb0" fill-opacity="0.85" stroke="#2e4796" stroke-width="0.9"/>
<circle cx="636" cy="452.9" r="3.3" fill="#5b6bb0" fill-opacity="0.85" stroke="#2e4796" stroke-width="0.9"/>
<circle cx="636" cy="458.3" r="3.3" fill="#5b6bb0" fill-opacity="0.85" stroke="#2e4796" stroke-width="0.9"/>
<circle cx="636" cy="488.7" r="3.3" fill="#5b6bb0" fill-opacity="0.85" stroke="#2e4796" stroke-width="0.9"/>
<circle cx="636" cy="490.1" r="3.3" fill="#5b6bb0" fill-opacity="0.85" stroke="#2e4796" stroke-width="0.9"/>
<circle cx="636" cy="496.4" r="3.3" fill="#5b6bb0" fill-opacity="0.85" stroke="#2e4796" stroke-width="0.9"/>
<polygon points="435.20,450.00 436.31,452.67 439.19,452.90 437.00,454.78 437.67,457.60 435.20,456.09 432.73,457.60 433.40,454.78 431.21,452.90 434.09,452.67" fill="#e39a8c" stroke="#d0243a" stroke-width="0.9"/>
<polygon points="510.70,452.80 511.81,455.47 514.69,455.70 512.50,457.58 513.17,460.40 510.70,458.89 508.23,460.40 508.90,457.58 506.71,455.70 509.59,455.47" fill="#e39a8c" stroke="#d0243a" stroke-width="0.9"/>
<text x="443" y="456.5" font-size="7.5" text-anchor="start" fill="#231f20"  stroke="#231f20" stroke-width="0.15">Our work</text>
<text x="518" y="459.4" font-size="7.5" text-anchor="start" fill="#231f20"  stroke="#231f20" stroke-width="0.15">Our work</text>
<rect x="385.5" y="509.5" width="82.1" height="22.6" fill="#fff" stroke="#3d3535" stroke-width="0.9"/>
<circle cx="390.7" cy="515" r="3.3" fill="#5b6bb0" stroke="#2e4796" stroke-width="0.9"/>
<polygon points="390.70,521.40 391.81,524.07 394.69,524.30 392.50,526.18 393.17,529.00 390.70,527.49 388.23,529.00 388.90,526.18 386.71,524.30 389.59,524.07" fill="#e39a8c" stroke="#d0243a" stroke-width="0.9"/>
<text x="398.7" y="517.6" font-size="7.45" text-anchor="start" fill="#231f20"  stroke="#231f20" stroke-width="0.15">Waveguide coupler</text>
<text x="398.7" y="527.9" font-size="7.45" text-anchor="start" fill="#231f20"  stroke="#231f20" stroke-width="0.15">Resonant coupler</text>
</svg>
</body></html>
